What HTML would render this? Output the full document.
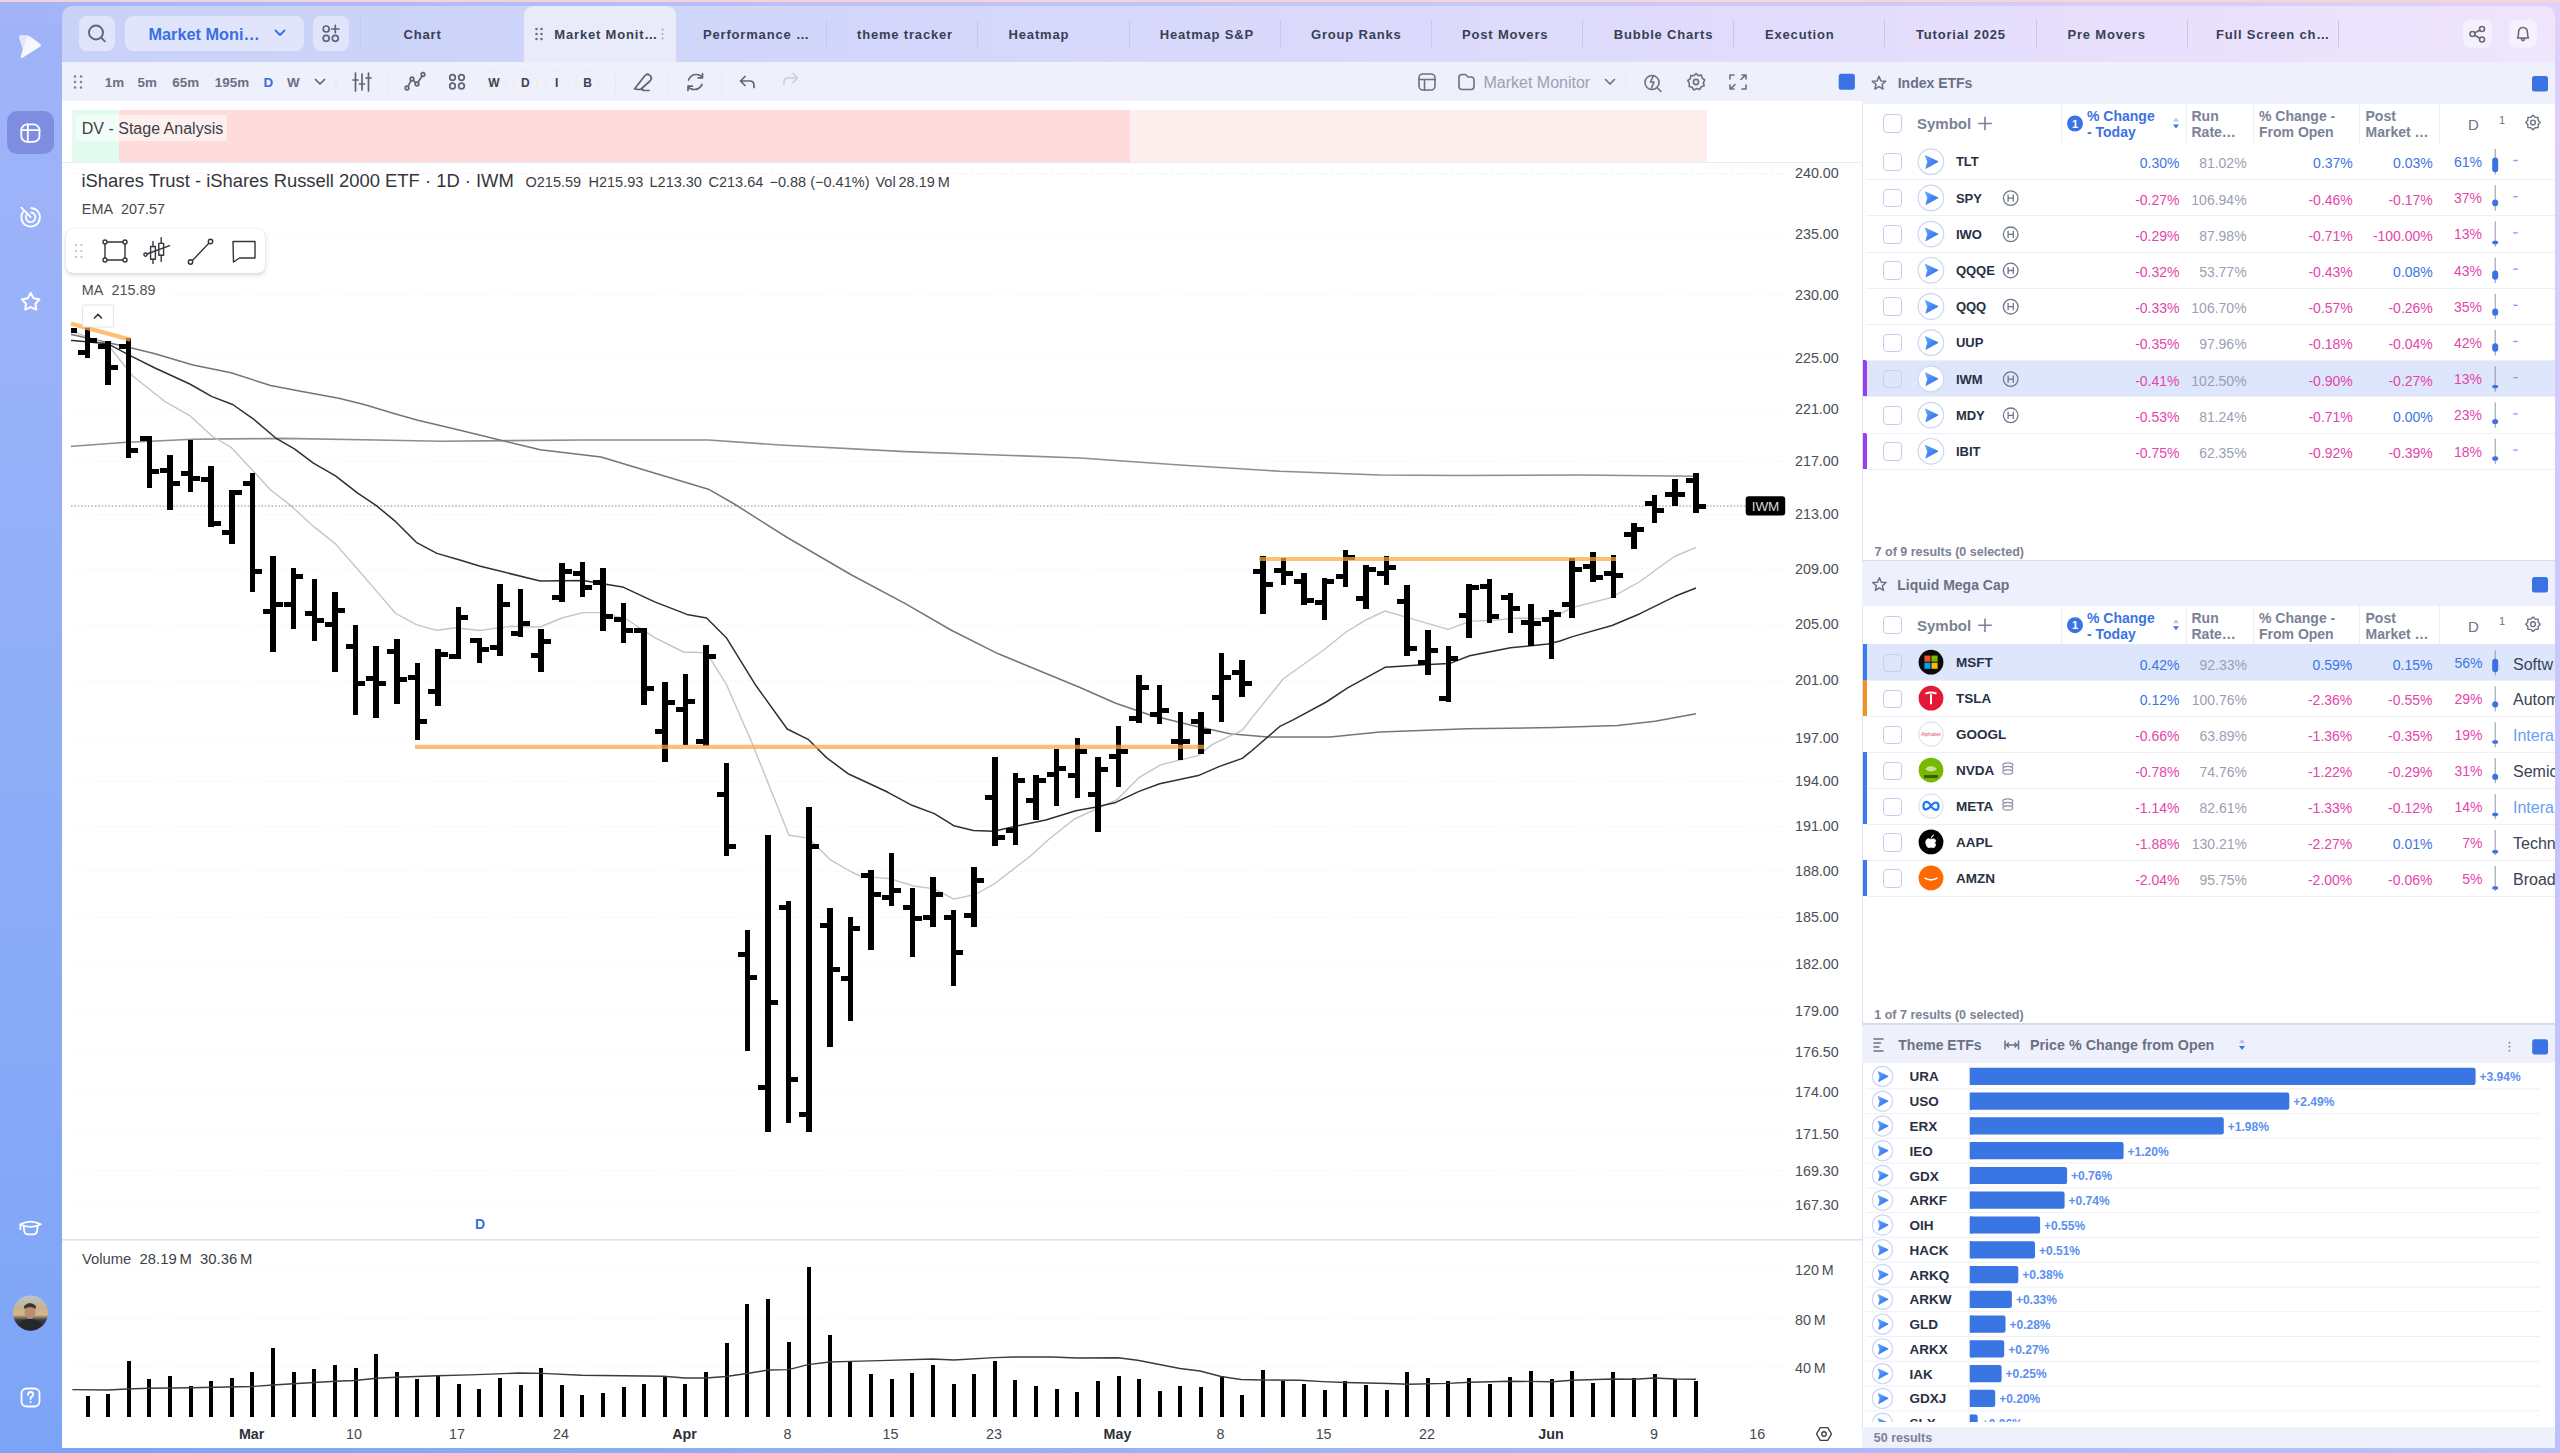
<!DOCTYPE html><html><head><meta charset="utf-8"><title>Market Monitor</title><style>
*{box-sizing:border-box;margin:0;padding:0}
html,body{width:2560px;height:1453px;overflow:hidden}
body{position:relative;font-family:"Liberation Sans",Arial,sans-serif;color:#2e3340;
 background:linear-gradient(180deg,#a0b3f8 0%,#9ab2f9 20%,#8faef8 50%,#87a9f7 75%,#7ca4f6 100%);}
.a{position:absolute}
.t{position:absolute;white-space:nowrap;line-height:1}
svg{position:absolute;overflow:visible}
#bgr{left:0;top:0;width:2560px;height:24px;
 background:linear-gradient(90deg,#a2b3f8 0%,#a6b5f8 3%,#b9bdfa 25%,#c5c4fb 50%,#d2c9fb 75%,#e2d1fa 100%);}
#bgb{left:62px;top:1440px;width:2498px;height:13px;
 background:linear-gradient(90deg,#7ca4f6 0%,#9fb3f8 50%,#bec1fa 100%);}
#rstrip{left:2540px;top:20px;width:20px;height:1433px;background:linear-gradient(180deg,#e0d0fa,#d8cdfa 15%,#c9c5fa 50%,#bcc0fa)}
#peach{left:0;top:0;width:2560px;height:2px;background:linear-gradient(90deg,#f3d2d6,#f6d6d2 60%,#f7d8d0)}
#tabbar{left:62px;top:6px;width:2493px;height:60px;border-radius:10px 10px 0 0;
 background:linear-gradient(90deg,#c8d1f8 0%,#d0d5fa 25%,#dad9fc 50%,#e4ddfc 75%,#efe5fc 100%);}
.tab{position:absolute;top:6px;height:56px;width:151px;}
.tabt{position:absolute;top:28px;font-weight:700;font-size:13px;letter-spacing:0.82px;color:#383f54;white-space:nowrap;line-height:1}
.sep{position:absolute;top:20px;width:1px;height:27px;background:#c3c9ec}
.btn{position:absolute;top:16px;height:35px;border-radius:8px;background:rgba(255,255,255,0.42)}
#chartp{left:62px;top:62px;width:1800px;height:1386px;background:#fff}
#tool{left:62px;top:62px;width:1800px;height:38.5px;background:#eef0fb}
#rightp{left:1862px;top:62px;width:693px;height:1386px;background:#fff;border-left:1px solid #d9dff3}
.hdr{position:absolute;left:1862px;width:693px;background:#eef0fb}
.cb{position:absolute;width:18.6px;height:18.6px;border:1.3px solid #c3cdee;border-radius:4px;background:#fff}
.sym{position:absolute;font-weight:700;font-size:13px;color:#283044;white-space:nowrap;line-height:1}
.num{position:absolute;font-size:14px;white-space:nowrap;line-height:1;text-align:right}
.pos{color:#3d74e4}.neg{color:#e445ab}.gry{color:#9aa0b4}
.colh{position:absolute;font-weight:700;font-size:14px;line-height:16px;color:#7b8196;white-space:nowrap}
.rowsep{position:absolute;left:1866px;width:689px;height:1px;background:#eef0f6}
.vsep{position:absolute;width:1px;background:#eceef6}
.tl{position:absolute;font-size:14.3px;color:#3a3d45;white-space:nowrap;line-height:1}
</style></head><body><div class="a" id="bgr"></div><div class="a" id="bgb"></div><div class="a" id="rstrip"></div><div class="a" id="peach"></div>
<svg class="a" style="left:0;top:0" width="62" height="1453" viewBox="0 0 62 1453"><defs><linearGradient id="lg1" x1="0" y1="0" x2="1" y2="1"><stop offset="0" stop-color="#eef0ff"/><stop offset="1" stop-color="#ffffff"/></linearGradient></defs><path d="M19.6,36.6 Q19.2,35.3 21,35.3 L27,35.4 Q28.6,35.5 30.2,36.6 L40.2,43.9 Q41.7,45.3 40.2,46.6 L22.6,57.7 Q20.3,58.9 20.8,56.5 L22.9,49 L19.4,38.6 Z" fill="url(#lg1)"/><path d="M19.6,36.6 Q19.2,35.3 21,35.3 L27.3,35.4 L22.9,49 L19.4,38.6 Z" fill="#e3e7fc"/><rect x="7" y="111" width="47" height="43" rx="10" fill="#7e8ddf"/><g fill="none" stroke="#fff" stroke-width="1.8" stroke-linecap="round" stroke-linejoin="round"><rect x="21.3" y="124.3" width="18.2" height="17.6" rx="6"/><path d="M21.3,130.2 H39.5 M27.8,124.3 V141.9"/><path d="M31.3,208 A9.3,9.3 0 1 1 23,212 M31.2,212.5 A4.8,4.8 0 1 1 26.3,215.2 M21.3,207.6 L30.6,217"/><polygon points="30.7,293.0 33.6,298.2 39.4,299.4 35.4,303.7 36.1,309.6 30.7,307.1 25.3,309.6 26.0,303.7 22.0,299.4 27.8,298.2" stroke-width="2.1"/><path d="M20.3,1224.3 Q30.5,1219 40.8,1224.3 Q30.5,1229.6 20.3,1224.3 Z"/><path d="M23.6,1226.2 L24.3,1231.3 Q24.9,1234.4 28,1234.4 H33.3 Q36.4,1234.4 37,1231.3 L37.6,1226.2"/><path d="M20.4,1224.6 V1229.3"/><rect x="21.5" y="1388.5" width="18" height="18" rx="5"/><path d="M28,1395 Q28,1392 30.6,1392 Q33.2,1392 33.2,1394.6 Q33.2,1396.3 30.6,1397.3 V1399"/></g><circle cx="30.6" cy="1402" r="1" fill="#fff"/><defs><linearGradient id="av" x1="0" y1="0" x2="0" y2="1"><stop offset="0" stop-color="#b9c4cf"/><stop offset="0.38" stop-color="#c9b08a"/><stop offset="0.55" stop-color="#d9b98c"/><stop offset="0.7" stop-color="#3a3a40"/><stop offset="1" stop-color="#1e1f24"/></linearGradient><clipPath id="avc"><circle cx="30.5" cy="1313" r="17.5"/></clipPath></defs><circle cx="30.5" cy="1313" r="17.5" fill="url(#av)"/><g clip-path="url(#avc)"><ellipse cx="30" cy="1312" rx="5.5" ry="7" fill="#b98d72"/><path d="M24,1306 Q30,1300 36,1306 L35.5,1309 Q30,1305 24.5,1309 Z" fill="#3b3430"/><path d="M16,1332 Q18,1319 30,1319 Q42,1319 45,1332 Z" fill="#26272c"/></g></svg>
<div class="a" id="tabbar"></div>
<div class="a" style="left:524px;top:6px;width:151.5px;height:57px;background:#e9ebfb;border-radius:9px 9px 0 0"></div>
<div class="btn" style="left:79px;width:36px"></div>
<div class="btn" style="left:124.5px;width:179.5px"></div>
<div class="btn" style="left:312.5px;width:36.5px"></div>
<div class="sep" style="left:360px;top:18px;height:31px"></div>
<div class="sep" style="left:826px"></div>
<div class="sep" style="left:977px"></div>
<div class="sep" style="left:1128.5px"></div>
<div class="sep" style="left:1280px"></div>
<div class="sep" style="left:1431.3px"></div>
<div class="sep" style="left:1582.3px"></div>
<div class="sep" style="left:1733px"></div>
<div class="sep" style="left:1884px"></div>
<div class="sep" style="left:2036px"></div>
<div class="sep" style="left:2187px"></div>
<div class="sep" style="left:2338px"></div>
<div class="tabt" style="left:403.5px">Chart</div>
<div class="tabt" style="left:554.3px">Market Monit…</div>
<div class="tabt" style="left:703px">Performance …</div>
<div class="tabt" style="left:857px">theme tracker</div>
<div class="tabt" style="left:1008.6px">Heatmap</div>
<div class="tabt" style="left:1159.7px">Heatmap S&amp;P</div>
<div class="tabt" style="left:1311px">Group Ranks</div>
<div class="tabt" style="left:1462px">Post Movers</div>
<div class="tabt" style="left:1613.7px">Bubble Charts</div>
<div class="tabt" style="left:1765px">Execution</div>
<div class="tabt" style="left:1916px">Tutorial 2025</div>
<div class="tabt" style="left:2067.5px">Pre Movers</div>
<div class="tabt" style="left:2216px">Full Screen ch…</div>
<div class="t" style="left:148.5px;top:25.5px;font-size:16.3px;font-weight:700;color:#3a6fe2">Market Moni…</div>
<svg class="a" style="left:0;top:0" width="2560" height="62" viewBox="0 0 2560 62"><g fill="none" stroke="#5f6577" stroke-width="1.9" stroke-linecap="round" stroke-linejoin="round"><circle cx="96" cy="32.5" r="7"/><path d="M101.2,37.7 L104.8,41.3"/></g><path d="M275.5,30.5 L280,35 L284.5,30.5" fill="none" stroke="#3a6fe2" stroke-width="1.9" stroke-linecap="round" stroke-linejoin="round"/><g fill="none" stroke="#5f6577" stroke-width="1.7" stroke-linecap="round"><circle cx="326.2" cy="29" r="3"/><circle cx="326.2" cy="38.3" r="3"/><circle cx="335.3" cy="38.3" r="3"/><path d="M335.3,25.3 V32.7 M331.6,29 H339"/></g><circle cx="536.5" cy="29" r="1.3" fill="#6a7086"/><circle cx="536.5" cy="34" r="1.3" fill="#6a7086"/><circle cx="536.5" cy="39" r="1.3" fill="#6a7086"/><circle cx="541.5" cy="29" r="1.3" fill="#6a7086"/><circle cx="541.5" cy="34" r="1.3" fill="#6a7086"/><circle cx="541.5" cy="39" r="1.3" fill="#6a7086"/><circle cx="662.6" cy="29.5" r="0.9" fill="#9aa0b5"/><circle cx="662.6" cy="34" r="0.9" fill="#9aa0b5"/><circle cx="662.6" cy="38.5" r="0.9" fill="#9aa0b5"/><rect x="2463" y="19.8" width="29" height="28" rx="7" fill="rgba(255,255,255,0.45)"/><rect x="2509" y="19.8" width="28" height="28" rx="7" fill="rgba(255,255,255,0.45)"/><g fill="none" stroke="#656b7d" stroke-width="1.6" stroke-linecap="round" stroke-linejoin="round"><circle cx="2472.5" cy="34" r="2.5"/><circle cx="2482" cy="29" r="2.5"/><circle cx="2482" cy="39.5" r="2.5"/><path d="M2474.8,32.8 L2479.8,30.2 M2474.8,35.2 L2479.8,38.2"/><path d="M2517.5,38 Q2518.5,36.5 2518.5,33 Q2518.5,27.5 2523,27.5 Q2527.5,27.5 2527.5,33 Q2527.5,36.5 2528.5,38 Z M2521.5,38.2 Q2521.5,40.5 2523,40.5 Q2524.5,40.5 2524.5,38.2"/></g></svg>
<div class="a" id="chartp"></div><div class="a" id="tool"></div>
<div class="t" style="left:104.8px;top:76.2px;font-size:13.4px;font-weight:700;color:#6a7084">1m</div>
<div class="t" style="left:137.5px;top:76.2px;font-size:13.4px;font-weight:700;color:#6a7084">5m</div>
<div class="t" style="left:172.3px;top:76.2px;font-size:13.4px;font-weight:700;color:#6a7084">65m</div>
<div class="t" style="left:214.8px;top:76.2px;font-size:13.4px;font-weight:700;color:#6a7084">195m</div>
<div class="t" style="left:263.5px;top:76.2px;font-size:13.4px;font-weight:700;color:#3a6fe2">D</div>
<div class="t" style="left:287px;top:76.2px;font-size:13.4px;font-weight:700;color:#6a7084">W</div>
<div class="t" style="left:482px;width:24px;text-align:center;top:76.5px;font-size:12px;font-weight:700;color:#3e4352">W</div>
<div class="t" style="left:513.3px;width:24px;text-align:center;top:76.5px;font-size:12px;font-weight:700;color:#3e4352">D</div>
<div class="t" style="left:544.6px;width:24px;text-align:center;top:76.5px;font-size:12px;font-weight:700;color:#3e4352">I</div>
<div class="t" style="left:575.5px;width:24px;text-align:center;top:76.5px;font-size:12px;font-weight:700;color:#3e4352">B</div>
<div class="t" style="left:1483.5px;top:74.5px;font-size:16px;color:#9ca1b3">Market Monitor</div>
<svg class="a" style="left:0;top:62px" width="1862" height="40" viewBox="0 62 1862 40"><circle cx="75" cy="76.5" r="1.25" fill="#7d8296"/><circle cx="75" cy="82" r="1.25" fill="#7d8296"/><circle cx="75" cy="87.5" r="1.25" fill="#7d8296"/><circle cx="81" cy="76.5" r="1.25" fill="#7d8296"/><circle cx="81" cy="82" r="1.25" fill="#7d8296"/><circle cx="81" cy="87.5" r="1.25" fill="#7d8296"/><g fill="none" stroke="#5f6577" stroke-width="1.7" stroke-linecap="round" stroke-linejoin="round"><path d="M315.5,79.5 L320,84 L324.5,79.5"/><path d="M355.5,73 V91 M362,74 V90 M368.5,73 V91 M353,80 H358 M359.5,84 H364.5 M366,78 H371"/><circle cx="407" cy="88" r="1.8"/><circle cx="412" cy="79" r="1.8"/><circle cx="417" cy="84" r="1.8"/><circle cx="423" cy="74.5" r="1.8"/><path d="M408,86.3 L411,80.7 M413.5,80.3 L415.5,82.7 M418,82.3 L422,76.3"/><circle cx="452.5" cy="77.5" r="2.8"/><circle cx="461.5" cy="77.5" r="2.8"/><circle cx="452.5" cy="86" r="2.8"/><circle cx="461.5" cy="86" r="2.8"/></g><g fill="none" stroke="#f1ebe4" stroke-width="1"><circle cx="494" cy="82.5" r="11.7"/><circle cx="525.3" cy="82.5" r="11.7"/><circle cx="556.6" cy="82.5" r="11.7"/><circle cx="587.5" cy="82.5" r="11.7"/></g><g fill="none" stroke="#5f6577" stroke-width="1.7" stroke-linecap="round" stroke-linejoin="round"><path d="M634.5,89 L645,75.5 Q647.5,73 650,75.5 L650.5,76 Q652.5,78.5 650,81 L640.5,89.5 Z M637.5,89.5 L643,89.5 M643,90.5 H649"/><path d="M688.5,80 Q691,74.5 696,74.5 Q700.5,74.5 702.5,77.5 M702.5,73.5 V77.8 H698.2 M702,84.5 Q699.5,89.5 694.5,89.5 Q690,89.5 688,86.5 M688,90.5 V86.2 H692.3"/><path d="M740.5,81 L745,76.5 M740.5,81 L745,85.5 M740.5,81 H750 Q754,81 754,85.5 V87.5"/></g><path d="M797.5,78 L793,73.5 M797.5,78 L793,82.5 M797.5,78 H788 Q784,78 784,82.5 V84.5" fill="none" stroke="#c9cdd9" stroke-width="1.5" stroke-linecap="round" stroke-linejoin="round"/><line x1="336" y1="71" x2="336" y2="94" stroke="#e6e0ea" stroke-width="1" stroke-dasharray="1.5,1.5"/><line x1="388" y1="71" x2="388" y2="94" stroke="#e6e0ea" stroke-width="1" stroke-dasharray="1.5,1.5"/><line x1="615.6" y1="71" x2="615.6" y2="94" stroke="#e6e0ea" stroke-width="1" stroke-dasharray="1.5,1.5"/><line x1="668" y1="71" x2="668" y2="94" stroke="#e6e0ea" stroke-width="1" stroke-dasharray="1.5,1.5"/><line x1="721.6" y1="71" x2="721.6" y2="94" stroke="#e6e0ea" stroke-width="1" stroke-dasharray="1.5,1.5"/><line x1="1626" y1="71" x2="1626" y2="94" stroke="#e6e0ea" stroke-width="1" stroke-dasharray="1.5,1.5"/><g fill="none" stroke="#6a7083" stroke-width="1.6" stroke-linecap="round" stroke-linejoin="round"><rect x="1419" y="74" width="16" height="16" rx="4"/><path d="M1419,79.5 H1435 M1424.5,79.5 V90"/><path d="M1459,77.5 Q1459,74.5 1462,74.5 H1465.5 L1468,77 H1471 Q1474,77 1474,80 V86.5 Q1474,89.5 1471,89.5 H1462 Q1459,89.5 1459,86.5 Z"/><path d="M1605.5,79.5 L1610,84 L1614.5,79.5"/><circle cx="1652" cy="82.5" r="7"/><path d="M1657,87.5 L1661,91.5 M1653.5,75.5 L1650.5,82 H1654 L1651.5,88"/><circle cx="1696" cy="82" r="2.6"/><path d="M1696,73.5 L1698.3,75.6 L1701.4,75 L1702.2,78.1 L1704.7,80 L1703.3,82.8 L1704.2,85.8 L1701.2,86.8 L1699.6,89.5 L1696.6,88.6 L1693.6,90 L1692.2,87.2 L1689.1,86.5 L1689.4,83.3 L1687.8,80.5 L1690.4,78.7 L1690.7,75.5 L1693.9,75.7 Z"/><path d="M1730,79 V75 H1734 M1742,75 H1746 V79 M1746,85 V89 H1742 M1734,89 H1730 V85 M1731.5,88 L1735,84.5 M1744.5,76 L1741,79.5"/></g><rect x="1838.7" y="73.7" width="16.2" height="16" rx="2.5" fill="#3b72e4"/></svg>
<div class="a" style="left:72px;top:110px;width:46.5px;height:52px;background:#e4fbf0"></div>
<div class="a" style="left:118.5px;top:110px;width:1011px;height:52px;background:#fddcdb"></div>
<div class="a" style="left:1129.5px;top:110px;width:577.5px;height:52px;background:#feeeee"></div>
<div class="a" style="left:75.5px;top:114.5px;width:151.5px;height:26.5px;background:rgba(255,255,255,0.55)"></div>
<div class="t" style="left:81.8px;top:121.3px;font-size:16px;color:#3c3f46">DV - Stage Analysis</div>
<div class="a" style="left:62px;top:161.5px;width:1799px;height:1px;background:#e6eaf5"></div>
<div class="t" style="left:81.5px;top:172.3px;font-size:18.4px;color:#33363d">iShares Trust - iShares Russell 2000 ETF · 1D · IWM</div>
<div class="t" style="left:525.5px;top:174.5px;font-size:14.5px;color:#3c3f46">O215.59</div>
<div class="t" style="left:588.5px;top:174.5px;font-size:14.5px;color:#3c3f46">H215.93</div>
<div class="t" style="left:649.5px;top:174.5px;font-size:14.5px;color:#3c3f46">L213.30</div>
<div class="t" style="left:708.5px;top:174.5px;font-size:14.5px;color:#3c3f46">C213.64</div>
<div class="t" style="left:769.5px;top:174.5px;font-size:14.5px;color:#3c3f46">−0.88 (−0.41%)</div>
<div class="t" style="left:875.5px;top:174.5px;font-size:14.5px;color:#3c3f46">Vol 28.19 M</div>
<div class="t" style="left:81.8px;top:201.8px;font-size:14.4px;color:#45484f">EMA&nbsp;&nbsp;207.57</div>
<div class="a" style="left:78px;top:283px;width:86px;height:19px;background:#fff;z-index:2"></div>
<div class="t" style="left:81.8px;top:283px;font-size:14.4px;color:#4d5058;z-index:3">MA&nbsp;&nbsp;215.89</div>
<div class="a" style="left:66px;top:229px;width:199px;height:44px;background:#fff;z-index:2;border-radius:7px;box-shadow:0 2px 5px rgba(0,0,0,0.16),0 0 1px rgba(0,0,0,0.12)"></div>
<svg class="a" style="left:0;top:0;z-index:3" width="300" height="340" viewBox="0 0 300 340"><circle cx="76" cy="245" r="1.2" fill="#c5c8d0"/><circle cx="76" cy="251" r="1.2" fill="#c5c8d0"/><circle cx="76" cy="257" r="1.2" fill="#c5c8d0"/><circle cx="81.5" cy="245" r="1.2" fill="#c5c8d0"/><circle cx="81.5" cy="251" r="1.2" fill="#c5c8d0"/><circle cx="81.5" cy="257" r="1.2" fill="#c5c8d0"/><g fill="none" stroke="#33363d" stroke-width="1.4" stroke-linecap="round" stroke-linejoin="round"><rect x="105" y="242" width="20" height="18"/><circle cx="105" cy="242" r="2" fill="#fff"/><circle cx="125" cy="242" r="2" fill="#fff"/><circle cx="105" cy="260" r="2" fill="#fff"/><circle cx="125" cy="260" r="2" fill="#fff"/><path d="M153,241.5 V246.5 M153,259.3 V263.5 M161.2,237.6 V243.4 M161.2,255.2 V261.6 M147,254 L169.6,245.6"/><rect x="150.6" y="246.5" width="4.8" height="12.8"/><rect x="158.8" y="243.4" width="4.8" height="11.8"/><circle cx="145.5" cy="254.6" r="1.6" fill="#fff"/><path d="M191,262 L210,242"/><circle cx="190.5" cy="262" r="2.2" fill="#fff"/><circle cx="210.5" cy="241.5" r="2.2" fill="#fff"/><path d="M233,241.5 H255 V258 H239.5 L233.5,262 Z"/></g><rect x="82.5" y="305" width="31" height="22" rx="2" fill="#fff" stroke="#e3e5ea" stroke-width="1"/><path d="M94.5,318 L98,314.5 L101.5,318" fill="none" stroke="#333" stroke-width="1.6" stroke-linecap="round"/></svg>
<svg class="a" style="left:0;top:0" width="1862" height="1453" viewBox="0 0 1862 1453"><defs><clipPath id="cp"><rect x="71" y="163" width="1700" height="1075"/></clipPath></defs><g stroke="#edeff3" stroke-width="1" stroke-dasharray="1.2,3"><line x1="71" y1="233.5" x2="1785" y2="233.5"/><line x1="71" y1="295.5" x2="1785" y2="295.5"/><line x1="71" y1="358.5" x2="1785" y2="358.5"/><line x1="71" y1="409.5" x2="1785" y2="409.5"/><line x1="71" y1="461.5" x2="1785" y2="461.5"/><line x1="71" y1="514.5" x2="1785" y2="514.5"/><line x1="71" y1="568.5" x2="1785" y2="568.5"/><line x1="71" y1="624.5" x2="1785" y2="624.5"/><line x1="71" y1="680.5" x2="1785" y2="680.5"/><line x1="71" y1="737.5" x2="1785" y2="737.5"/><line x1="71" y1="781.5" x2="1785" y2="781.5"/><line x1="71" y1="826.5" x2="1785" y2="826.5"/><line x1="71" y1="871.5" x2="1785" y2="871.5"/><line x1="71" y1="917.5" x2="1785" y2="917.5"/><line x1="71" y1="964.5" x2="1785" y2="964.5"/><line x1="71" y1="1011.5" x2="1785" y2="1011.5"/><line x1="71" y1="1051.5" x2="1785" y2="1051.5"/><line x1="71" y1="1092.5" x2="1785" y2="1092.5"/><line x1="71" y1="1134.5" x2="1785" y2="1134.5"/><line x1="71" y1="1170.5" x2="1785" y2="1170.5"/><line x1="71" y1="1204.5" x2="1785" y2="1204.5"/><line x1="71" y1="1270.5" x2="1785" y2="1270.5"/><line x1="71" y1="1319.5" x2="1785" y2="1319.5"/><line x1="71" y1="1367.5" x2="1785" y2="1367.5"/></g><line x1="71" y1="173.5" x2="1785" y2="173.5" stroke="#eceef2" stroke-width="1" stroke-dasharray="2,3"/><line x1="71" y1="506" x2="1746" y2="506" stroke="#8f8f94" stroke-width="1.2" stroke-dasharray="1.6,1.8"/><g clip-path="url(#cp)" fill="none" stroke-linejoin="round"><polyline points="71.0,446.4 72.7,446.3 123.3,442.5 193.0,439.3 281.7,438.4 376.7,440.0 440.0,441.2 583.0,440.0 708.4,440.0 780.0,445.0 905.3,451.6 1080.0,458.0 1180.0,465.0 1280.0,471.3 1380.0,475.0 1455.0,475.5 1580.0,475.0 1695.0,476.3" stroke="#8c8c92" stroke-width="1.6"/><polyline points="71.0,334.5 72.7,334.8 129.7,347.5 155.0,353.8 193.0,365.0 231.0,372.8 270.6,385.5 300.7,391.2 338.7,398.2 364.0,404.5 395.7,414.0 417.9,420.3 440.0,425.5 459.0,430.0 540.2,449.8 601.0,457.0 636.8,467.7 708.4,489.2 733.5,503.5 787.2,537.5 851.6,575.0 905.3,603.7 951.8,630.5 998.3,653.8 1040.0,671.0 1080.0,687.5 1115.7,703.3 1150.0,715.0 1191.4,725.3 1230.0,733.8 1267.5,737.0 1330.0,737.0 1380.0,732.0 1467.5,728.8 1555.0,727.5 1617.5,725.5 1655.0,721.3 1696.0,713.8" stroke="#74747a" stroke-width="1.5"/><polyline points="71.0,331.2 72.7,331.7 107.5,344.3 132.8,376.0 164.5,401.3 189.8,415.6 212.0,436.0 231.0,447.3 253.2,471.0 270.6,490.0 291.2,505.9 313.4,526.4 335.5,543.9 357.7,569.2 376.7,591.4 395.7,613.5 416.3,624.6 436.9,630.3 455.9,627.8 479.4,630.5 511.6,626.2 540.2,627.0 561.7,618.0 583.2,612.6 601.0,612.6 626.0,619.0 654.7,637.7 683.4,652.0 706.6,652.7 726.3,684.2 751.4,741.5 789.0,835.3 808.6,838.1 830.0,859.6 851.6,872.0 860.0,875.9 889.7,878.7 913.9,886.0 934.3,888.9 953.8,899.1 975.2,894.5 993.8,884.2 1030.5,856.0 1048.0,840.0 1074.4,819.0 1117.0,799.7 1139.0,777.6 1161.0,764.6 1198.3,755.6 1212.0,744.6 1242.3,730.2 1250.5,719.6 1283.1,679.0 1325.0,649.0 1346.0,632.0 1365.5,620.2 1385.0,611.0 1403.4,616.3 1448.0,629.4 1471.0,621.1 1492.0,620.5 1516.7,618.0 1539.0,618.7 1554.0,616.8 1572.5,607.5 1611.0,597.6 1640.0,581.5 1656.0,569.7 1674.3,556.5 1696.2,547.4" stroke="#c4c4cc" stroke-width="1.4"/><polyline points="71.0,340.4 72.7,340.5 107.5,343.7 129.7,355.4 155.0,368.0 189.8,384.0 212.0,396.6 232.6,404.5 253.2,418.8 275.4,437.8 294.4,448.9 313.4,463.1 335.5,475.8 357.7,493.2 376.7,505.9 395.7,521.7 416.3,542.3 436.9,553.4 459.0,559.7 479.4,566.0 540.2,581.1 583.2,580.4 622.5,586.9 654.7,601.9 687.0,614.4 706.6,618.0 726.3,637.7 755.0,684.2 787.2,729.0 808.6,739.7 826.5,757.6 848.0,773.7 860.0,779.2 887.9,792.3 912.0,805.3 934.3,813.6 953.8,825.7 973.4,830.4 993.8,831.3 1018.0,825.7 1045.8,820.0 1075.8,810.7 1095.0,807.2 1115.7,802.4 1139.0,791.4 1159.7,783.8 1198.3,775.6 1218.9,766.6 1242.3,758.4 1250.0,752.2 1280.0,726.3 1293.6,719.6 1326.3,702.0 1347.2,688.2 1385.0,667.3 1423.0,664.7 1450.0,663.4 1469.6,655.8 1510.5,647.8 1547.7,644.0 1560.0,641.0 1572.5,636.6 1612.0,625.5 1640.0,613.7 1675.0,596.3 1696.0,588.0" stroke="#2f2f33" stroke-width="1.5"/></g><g fill="#000" shape-rendering="crispEdges" clip-path="url(#cp)"><rect x="71" y="327.5" width="6" height="5"/><rect x="84.75" y="327.0" width="5.5" height="31.0"/><rect x="77.75" y="350.0" width="7" height="5"/><rect x="90.25" y="337.5" width="7" height="5"/><rect x="105.37" y="341.0" width="5.5" height="44.0"/><rect x="98.37" y="343.5" width="7" height="5"/><rect x="110.87" y="364.5" width="7" height="5"/><rect x="125.99" y="337.5" width="5.5" height="120.1"/><rect x="118.99" y="343.5" width="7" height="5"/><rect x="131.49" y="448.0" width="7" height="5"/><rect x="146.61" y="435.6" width="5.5" height="52.4"/><rect x="139.61" y="436.0" width="7" height="5"/><rect x="152.11" y="469.0" width="7" height="5"/><rect x="167.23" y="454.5" width="5.5" height="55.5"/><rect x="160.23" y="467.5" width="7" height="5"/><rect x="172.73" y="480.5" width="7" height="5"/><rect x="187.85" y="440.4" width="5.5" height="51.1"/><rect x="180.85" y="471.0" width="7" height="5"/><rect x="193.35" y="476.0" width="7" height="5"/><rect x="208.47" y="465.7" width="5.5" height="61.3"/><rect x="201.47" y="477.0" width="7" height="5"/><rect x="213.97" y="520.5" width="7" height="5"/><rect x="229.09" y="490.0" width="5.5" height="54.0"/><rect x="222.09" y="530.0" width="7" height="5"/><rect x="234.59" y="490.0" width="7" height="5"/><rect x="249.71" y="473.0" width="5.5" height="119.0"/><rect x="242.71" y="480.5" width="7" height="5"/><rect x="255.21" y="569.0" width="7" height="5"/><rect x="270.33" y="555.8" width="5.5" height="95.8"/><rect x="263.33" y="608.5" width="7" height="5"/><rect x="275.83" y="601.5" width="7" height="5"/><rect x="290.95" y="568.4" width="5.5" height="60.2"/><rect x="283.95" y="601.5" width="7" height="5"/><rect x="296.45" y="573.5" width="7" height="5"/><rect x="311.57" y="578.7" width="5.5" height="62.3"/><rect x="304.57" y="610.9" width="7" height="5"/><rect x="317.07" y="617.5" width="7" height="5"/><rect x="332.19" y="592.0" width="5.5" height="79.5"/><rect x="325.19" y="622.0" width="7" height="5"/><rect x="337.69" y="608.0" width="7" height="5"/><rect x="352.81" y="625.0" width="5.5" height="89.5"/><rect x="345.81" y="643.5" width="7" height="5"/><rect x="358.31" y="681.0" width="7" height="5"/><rect x="373.43" y="646.0" width="5.5" height="71.5"/><rect x="366.43" y="676.0" width="7" height="5"/><rect x="378.93" y="681.0" width="7" height="5"/><rect x="394.05" y="638.6" width="5.5" height="64.9"/><rect x="387.05" y="648.5" width="7" height="5"/><rect x="399.55" y="676.5" width="7" height="5"/><rect x="414.67" y="663.0" width="5.5" height="77.0"/><rect x="407.67" y="674.5" width="7" height="5"/><rect x="420.17" y="719.2" width="7" height="5"/><rect x="435.29" y="649.0" width="5.5" height="56.5"/><rect x="428.29" y="688.5" width="7" height="5"/><rect x="440.79" y="652.0" width="7" height="5"/><rect x="455.91" y="607.4" width="5.5" height="51.6"/><rect x="448.91" y="654.0" width="7" height="5"/><rect x="461.41" y="615.0" width="7" height="5"/><rect x="476.53" y="637.5" width="5.5" height="25.5"/><rect x="469.53" y="637.5" width="7" height="5"/><rect x="482.03" y="646.5" width="7" height="5"/><rect x="497.15" y="584.3" width="5.5" height="71.3"/><rect x="490.15" y="645.0" width="7" height="5"/><rect x="502.65" y="602.2" width="7" height="5"/><rect x="517.77" y="589.0" width="5.5" height="48.0"/><rect x="510.77" y="631.0" width="7" height="5"/><rect x="523.27" y="621.0" width="7" height="5"/><rect x="538.39" y="629.0" width="5.5" height="42.8"/><rect x="531.39" y="653.3" width="7" height="5"/><rect x="543.89" y="638.8" width="7" height="5"/><rect x="559.01" y="563.0" width="5.5" height="39.4"/><rect x="552.01" y="595.0" width="7" height="5"/><rect x="564.51" y="568.5" width="7" height="5"/><rect x="579.63" y="562.0" width="5.5" height="34.7"/><rect x="572.63" y="571.0" width="7" height="5"/><rect x="585.13" y="584.5" width="7" height="5"/><rect x="600.25" y="568.4" width="5.5" height="62.1"/><rect x="593.25" y="580.0" width="7" height="5"/><rect x="605.75" y="613.5" width="7" height="5"/><rect x="620.87" y="602.8" width="5.5" height="39.9"/><rect x="613.87" y="616.8" width="7" height="5"/><rect x="626.37" y="627.5" width="7" height="5"/><rect x="641.49" y="627.5" width="5.5" height="77.5"/><rect x="634.49" y="627.5" width="7" height="5"/><rect x="646.99" y="686.2" width="7" height="5"/><rect x="662.11" y="682.2" width="5.5" height="79.5"/><rect x="655.11" y="728.7" width="7" height="5"/><rect x="667.61" y="699.9" width="7" height="5"/><rect x="682.73" y="674.0" width="5.5" height="71.0"/><rect x="675.73" y="706.5" width="7" height="5"/><rect x="688.23" y="699.1" width="7" height="5"/><rect x="703.35" y="644.6" width="5.5" height="101.2"/><rect x="696.35" y="738.5" width="7" height="5"/><rect x="708.85" y="653.9" width="7" height="5"/><rect x="723.97" y="763.4" width="5.5" height="92.3"/><rect x="716.97" y="791.8" width="7" height="5"/><rect x="729.47" y="843.5" width="7" height="5"/><rect x="744.59" y="929.7" width="5.5" height="121.7"/><rect x="737.59" y="952.2" width="7" height="5"/><rect x="750.09" y="974.8" width="7" height="5"/><rect x="765.21" y="834.6" width="5.5" height="297.4"/><rect x="758.21" y="1085.0" width="7" height="5"/><rect x="770.71" y="1000.1" width="7" height="5"/><rect x="785.83" y="901.3" width="5.5" height="221.2"/><rect x="778.83" y="905.0" width="7" height="5"/><rect x="791.33" y="1076.5" width="7" height="5"/><rect x="806.45" y="806.9" width="5.5" height="325.1"/><rect x="799.45" y="1111.5" width="7" height="5"/><rect x="811.95" y="843.5" width="7" height="5"/><rect x="827.07" y="907.6" width="5.5" height="139.0"/><rect x="820.07" y="922.5" width="7" height="5"/><rect x="832.57" y="966.5" width="7" height="5"/><rect x="847.69" y="917.0" width="5.5" height="103.8"/><rect x="840.69" y="975.5" width="7" height="5"/><rect x="853.19" y="925.5" width="7" height="5"/><rect x="868.31" y="869.5" width="5.5" height="80.0"/><rect x="861.31" y="872.5" width="7" height="5"/><rect x="873.81" y="891.5" width="7" height="5"/><rect x="888.93" y="852.7" width="5.5" height="53.5"/><rect x="881.93" y="894.5" width="7" height="5"/><rect x="894.43" y="887.5" width="7" height="5"/><rect x="909.55" y="888.3" width="5.5" height="68.7"/><rect x="902.55" y="904.8" width="7" height="5"/><rect x="915.05" y="915.5" width="7" height="5"/><rect x="930.17" y="877.2" width="5.5" height="50.2"/><rect x="923.17" y="915.0" width="7" height="5"/><rect x="935.67" y="892.0" width="7" height="5"/><rect x="950.79" y="910.3" width="5.5" height="75.2"/><rect x="943.79" y="915.0" width="7" height="5"/><rect x="956.29" y="950.0" width="7" height="5"/><rect x="971.41" y="867.0" width="5.5" height="59.6"/><rect x="964.41" y="912.9" width="7" height="5"/><rect x="976.91" y="877.7" width="7" height="5"/><rect x="992.03" y="757.0" width="5.5" height="88.6"/><rect x="985.03" y="795.1" width="7" height="5"/><rect x="997.53" y="835.0" width="7" height="5"/><rect x="1012.65" y="773.0" width="5.5" height="71.8"/><rect x="1005.65" y="827.5" width="7" height="5"/><rect x="1018.15" y="778.3" width="7" height="5"/><rect x="1033.27" y="774.6" width="5.5" height="45.4"/><rect x="1026.27" y="797.9" width="7" height="5"/><rect x="1038.77" y="777.5" width="7" height="5"/><rect x="1053.89" y="748.7" width="5.5" height="56.8"/><rect x="1046.89" y="771.5" width="7" height="5"/><rect x="1059.39" y="765.9" width="7" height="5"/><rect x="1074.51" y="737.7" width="5.5" height="60.3"/><rect x="1067.51" y="772.7" width="7" height="5"/><rect x="1080.01" y="749.3" width="7" height="5"/><rect x="1095.13" y="757.0" width="5.5" height="74.6"/><rect x="1088.13" y="792.0" width="7" height="5"/><rect x="1100.63" y="766.5" width="7" height="5"/><rect x="1115.75" y="726.0" width="5.5" height="61.0"/><rect x="1108.75" y="754.1" width="7" height="5"/><rect x="1121.25" y="748.8" width="7" height="5"/><rect x="1136.37" y="675.0" width="5.5" height="47.6"/><rect x="1129.37" y="716.0" width="7" height="5"/><rect x="1141.87" y="685.1" width="7" height="5"/><rect x="1156.99" y="685.0" width="5.5" height="39.2"/><rect x="1149.99" y="712.3" width="7" height="5"/><rect x="1162.49" y="707.5" width="7" height="5"/><rect x="1177.61" y="711.8" width="5.5" height="48.0"/><rect x="1170.61" y="739.0" width="7" height="5"/><rect x="1183.11" y="738.5" width="7" height="5"/><rect x="1198.23" y="712.3" width="5.5" height="41.7"/><rect x="1191.23" y="719.0" width="7" height="5"/><rect x="1203.73" y="729.2" width="7" height="5"/><rect x="1218.85" y="653.0" width="5.5" height="68.5"/><rect x="1211.85" y="695.1" width="7" height="5"/><rect x="1224.35" y="675.0" width="7" height="5"/><rect x="1239.47" y="660.0" width="5.5" height="37.0"/><rect x="1232.47" y="670.0" width="7" height="5"/><rect x="1244.97" y="680.5" width="7" height="5"/><rect x="1260.09" y="556.0" width="5.5" height="58.3"/><rect x="1253.09" y="568.7" width="7" height="5"/><rect x="1265.59" y="582.2" width="7" height="5"/><rect x="1280.71" y="558.0" width="5.5" height="26.7"/><rect x="1273.71" y="567.5" width="7" height="5"/><rect x="1286.21" y="571.1" width="7" height="5"/><rect x="1301.33" y="572.5" width="5.5" height="32.7"/><rect x="1294.33" y="579.2" width="7" height="5"/><rect x="1306.83" y="597.5" width="7" height="5"/><rect x="1321.95" y="577.7" width="5.5" height="42.5"/><rect x="1314.95" y="599.9" width="7" height="5"/><rect x="1327.45" y="578.5" width="7" height="5"/><rect x="1342.57" y="550.3" width="5.5" height="37.0"/><rect x="1335.57" y="573.9" width="7" height="5"/><rect x="1348.07" y="554.9" width="7" height="5"/><rect x="1363.19" y="565.0" width="5.5" height="43.5"/><rect x="1356.19" y="596.1" width="7" height="5"/><rect x="1368.69" y="566.8" width="7" height="5"/><rect x="1383.81" y="555.5" width="5.5" height="29.2"/><rect x="1376.81" y="570.8" width="7" height="5"/><rect x="1389.31" y="564.9" width="7" height="5"/><rect x="1404.43" y="585.2" width="5.5" height="70.6"/><rect x="1397.43" y="598.8" width="7" height="5"/><rect x="1409.93" y="646.2" width="7" height="5"/><rect x="1425.05" y="630.0" width="5.5" height="44.5"/><rect x="1418.05" y="660.1" width="7" height="5"/><rect x="1430.55" y="647.5" width="7" height="5"/><rect x="1445.67" y="646.3" width="5.5" height="55.4"/><rect x="1438.67" y="695.5" width="7" height="5"/><rect x="1451.17" y="655.8" width="7" height="5"/><rect x="1466.29" y="583.6" width="5.5" height="54.5"/><rect x="1459.29" y="612.7" width="7" height="5"/><rect x="1471.79" y="584.8" width="7" height="5"/><rect x="1486.91" y="579.4" width="5.5" height="43.4"/><rect x="1479.91" y="583.5" width="7" height="5"/><rect x="1492.41" y="614.2" width="7" height="5"/><rect x="1507.53" y="593.0" width="5.5" height="39.7"/><rect x="1500.53" y="594.8" width="7" height="5"/><rect x="1513.03" y="605.8" width="7" height="5"/><rect x="1528.15" y="603.8" width="5.5" height="42.5"/><rect x="1521.15" y="619.5" width="7" height="5"/><rect x="1533.65" y="621.1" width="7" height="5"/><rect x="1548.77" y="610.0" width="5.5" height="48.7"/><rect x="1541.77" y="616.8" width="7" height="5"/><rect x="1554.27" y="611.7" width="7" height="5"/><rect x="1569.39" y="558.3" width="5.5" height="60.0"/><rect x="1562.39" y="601.5" width="7" height="5"/><rect x="1574.89" y="566.6" width="7" height="5"/><rect x="1590.01" y="552.4" width="5.5" height="29.7"/><rect x="1583.01" y="563.5" width="7" height="5"/><rect x="1595.51" y="574.5" width="7" height="5"/><rect x="1610.63" y="554.9" width="5.5" height="43.1"/><rect x="1603.63" y="570.5" width="7" height="5"/><rect x="1616.13" y="572.8" width="7" height="5"/><rect x="1631.25" y="523.3" width="5.5" height="25.7"/><rect x="1624.25" y="532.3" width="7" height="5"/><rect x="1636.75" y="527.1" width="7" height="5"/><rect x="1651.87" y="494.6" width="5.5" height="28.2"/><rect x="1644.87" y="500.5" width="7" height="5"/><rect x="1657.37" y="507.5" width="7" height="5"/><rect x="1672.49" y="479.3" width="5.5" height="26.4"/><rect x="1665.49" y="491.8" width="7" height="5"/><rect x="1677.99" y="491.8" width="7" height="5"/><rect x="1693.11" y="472.5" width="5.5" height="40.3"/><rect x="1686.11" y="478.1" width="7" height="5"/><rect x="1698.61" y="503.5" width="7" height="5"/></g><g stroke="#fca63f" stroke-opacity="0.72" stroke-width="4.2" stroke-linecap="butt"><line x1="71" y1="323.6" x2="130.5" y2="339.8"/><line x1="415" y1="746.8" x2="1204" y2="746.8"/><line x1="1259" y1="559" x2="1616" y2="559"/></g><rect x="1745.7" y="496.2" width="39.5" height="19.4" rx="3" fill="#000"/><text x="1765.5" y="511" text-anchor="middle" font-size="13.5" fill="#d8d8d8" font-family="Liberation Sans, Arial, sans-serif">IWM</text><g font-size="14.3" fill="#4b4e56" font-family="Liberation Sans, Arial, sans-serif" text-anchor="start"><text x="1795" y="178.3">240.00</text><text x="1795" y="238.5">235.00</text><text x="1795" y="300.0">230.00</text><text x="1795" y="362.8">225.00</text><text x="1795" y="414.0">221.00</text><text x="1795" y="466.2">217.00</text><text x="1795" y="519.4">213.00</text><text x="1795" y="573.6">209.00</text><text x="1795" y="628.8">205.00</text><text x="1795" y="685.1">201.00</text><text x="1795" y="742.5">197.00</text><text x="1795" y="786.4">194.00</text><text x="1795" y="830.9">191.00</text><text x="1795" y="876.1">188.00</text><text x="1795" y="922.1">185.00</text><text x="1795" y="968.8">182.00</text><text x="1795" y="1016.3">179.00</text><text x="1795" y="1056.5">176.50</text><text x="1795" y="1097.3">174.00</text><text x="1795" y="1138.6">171.50</text><text x="1795" y="1175.5">169.30</text><text x="1795" y="1209.5">167.30</text><text x="1795" y="1275.3" text-anchor="start">120 M</text><text x="1795" y="1324.5" text-anchor="start">80 M</text><text x="1795" y="1372.9" text-anchor="start">40 M</text></g><rect x="62" y="1239.2" width="1800" height="1.3" fill="#d5dbee"/><text x="480" y="1228.5" text-anchor="middle" font-size="14" font-weight="700" fill="#3a6fe2" font-family="Liberation Sans, Arial, sans-serif">D</text><g fill="#000" shape-rendering="crispEdges"><rect x="85.50" y="1396.2" width="4" height="21.0"/><rect x="106.12" y="1393.7" width="4" height="23.5"/><rect x="126.74" y="1361.4" width="4" height="55.8"/><rect x="147.36" y="1379.1" width="4" height="38.1"/><rect x="167.98" y="1375.8" width="4" height="41.4"/><rect x="188.60" y="1386.0" width="4" height="31.2"/><rect x="209.22" y="1380.8" width="4" height="36.4"/><rect x="229.84" y="1377.5" width="4" height="39.7"/><rect x="250.46" y="1372.2" width="4" height="45.0"/><rect x="271.08" y="1348.0" width="4" height="69.2"/><rect x="291.70" y="1372.2" width="4" height="45.0"/><rect x="312.32" y="1369.0" width="4" height="48.2"/><rect x="332.94" y="1365.0" width="4" height="52.2"/><rect x="353.56" y="1368.3" width="4" height="48.9"/><rect x="374.18" y="1353.7" width="4" height="63.5"/><rect x="394.80" y="1371.6" width="4" height="45.6"/><rect x="415.42" y="1378.6" width="4" height="38.6"/><rect x="436.04" y="1375.4" width="4" height="41.8"/><rect x="456.66" y="1383.6" width="4" height="33.6"/><rect x="477.28" y="1388.5" width="4" height="28.7"/><rect x="497.90" y="1377.5" width="4" height="39.7"/><rect x="518.52" y="1384.9" width="4" height="32.3"/><rect x="539.14" y="1368.3" width="4" height="48.9"/><rect x="559.76" y="1385.2" width="4" height="32.0"/><rect x="580.38" y="1394.6" width="4" height="22.6"/><rect x="601.00" y="1393.0" width="4" height="24.2"/><rect x="621.62" y="1386.8" width="4" height="30.4"/><rect x="642.24" y="1383.6" width="4" height="33.6"/><rect x="662.86" y="1376.2" width="4" height="41.0"/><rect x="683.48" y="1384.4" width="4" height="32.8"/><rect x="704.10" y="1371.7" width="4" height="45.5"/><rect x="724.72" y="1343.0" width="4" height="74.2"/><rect x="745.34" y="1304.0" width="4" height="113.2"/><rect x="765.96" y="1299.0" width="4" height="118.2"/><rect x="786.58" y="1342.0" width="4" height="75.2"/><rect x="807.20" y="1266.7" width="4" height="150.5"/><rect x="827.82" y="1334.7" width="4" height="82.5"/><rect x="848.44" y="1361.4" width="4" height="55.8"/><rect x="869.06" y="1373.7" width="4" height="43.5"/><rect x="889.68" y="1379.1" width="4" height="38.1"/><rect x="910.30" y="1373.2" width="4" height="44.0"/><rect x="930.92" y="1365.0" width="4" height="52.2"/><rect x="951.54" y="1384.4" width="4" height="32.8"/><rect x="972.16" y="1374.2" width="4" height="43.0"/><rect x="992.78" y="1361.4" width="4" height="55.8"/><rect x="1013.40" y="1380.0" width="4" height="37.2"/><rect x="1034.02" y="1386.0" width="4" height="31.2"/><rect x="1054.64" y="1388.5" width="4" height="28.7"/><rect x="1075.26" y="1392.3" width="4" height="24.9"/><rect x="1095.88" y="1380.8" width="4" height="36.4"/><rect x="1116.50" y="1375.8" width="4" height="41.4"/><rect x="1137.12" y="1379.1" width="4" height="38.1"/><rect x="1157.74" y="1391.0" width="4" height="26.2"/><rect x="1178.36" y="1385.7" width="4" height="31.5"/><rect x="1198.98" y="1386.8" width="4" height="30.4"/><rect x="1219.60" y="1376.2" width="4" height="41.0"/><rect x="1240.22" y="1395.0" width="4" height="22.2"/><rect x="1260.84" y="1369.6" width="4" height="47.6"/><rect x="1281.46" y="1381.4" width="4" height="35.8"/><rect x="1302.08" y="1384.4" width="4" height="32.8"/><rect x="1322.70" y="1390.1" width="4" height="27.1"/><rect x="1343.32" y="1380.8" width="4" height="36.4"/><rect x="1363.94" y="1385.2" width="4" height="32.0"/><rect x="1384.56" y="1389.6" width="4" height="27.6"/><rect x="1405.18" y="1371.6" width="4" height="45.6"/><rect x="1425.80" y="1377.5" width="4" height="39.7"/><rect x="1446.42" y="1380.8" width="4" height="36.4"/><rect x="1467.04" y="1377.5" width="4" height="39.7"/><rect x="1487.66" y="1384.4" width="4" height="32.8"/><rect x="1508.28" y="1376.5" width="4" height="40.7"/><rect x="1528.90" y="1370.8" width="4" height="46.4"/><rect x="1549.52" y="1379.1" width="4" height="38.1"/><rect x="1570.14" y="1370.8" width="4" height="46.4"/><rect x="1590.76" y="1382.7" width="4" height="34.5"/><rect x="1611.38" y="1372.1" width="4" height="45.1"/><rect x="1632.00" y="1377.5" width="4" height="39.7"/><rect x="1652.62" y="1373.7" width="4" height="43.5"/><rect x="1673.24" y="1379.1" width="4" height="38.1"/><rect x="1693.86" y="1381.4" width="4" height="35.8"/></g><polyline points="72.3,1389.6 107.6,1390.0 127.0,1389.0 149.0,1388.2 191.0,1387.8 252.0,1386.5 273.0,1385.0 293.0,1383.8 314.0,1382.5 335.6,1381.3 355.0,1380.5 376.6,1378.3 396.0,1377.3 437.0,1375.8 470.0,1374.9 519.0,1373.0 542.0,1373.4 581.6,1375.3 663.6,1376.2 685.0,1378.0 706.0,1378.0 726.0,1376.5 747.0,1373.5 768.6,1370.0 788.6,1369.6 808.0,1364.6 829.3,1362.0 850.6,1361.4 880.0,1360.6 932.5,1359.0 953.8,1360.0 994.8,1357.6 1014.5,1357.0 1052.0,1357.0 1077.0,1358.0 1118.0,1357.8 1137.6,1360.3 1180.0,1368.5 1200.0,1371.0 1221.0,1376.5 1241.0,1379.5 1262.0,1380.0 1300.0,1380.3 1322.8,1381.6 1345.8,1382.5 1388.4,1383.5 1408.0,1384.2 1447.5,1383.4 1470.5,1382.3 1510.0,1381.2 1552.5,1381.8 1572.0,1380.3 1613.0,1379.0 1634.5,1379.3 1654.0,1378.0 1675.5,1379.0 1696.0,1379.3" fill="none" stroke="#3a3a40" stroke-width="1.4" stroke-linejoin="round"/><g font-size="14.3" fill="#44474f" font-family="Liberation Sans, Arial, sans-serif" text-anchor="middle"><text x="251.6" y="1439.2" font-weight="700" fill="#2e3138">Mar</text><text x="354" y="1439.2">10</text><text x="457" y="1439.2">17</text><text x="561" y="1439.2">24</text><text x="684.5" y="1439.2" font-weight="700" fill="#2e3138">Apr</text><text x="787.5" y="1439.2">8</text><text x="890.5" y="1439.2">15</text><text x="994" y="1439.2">23</text><text x="1117.5" y="1439.2" font-weight="700" fill="#2e3138">May</text><text x="1220.5" y="1439.2">8</text><text x="1323.6" y="1439.2">15</text><text x="1427" y="1439.2">22</text><text x="1551" y="1439.2" font-weight="700" fill="#2e3138">Jun</text><text x="1654" y="1439.2">9</text><text x="1757.3" y="1439.2">16</text></g><path d="M1816.5,1434 L1820.3,1427.6 H1827.7 L1831.5,1434 L1827.7,1440.4 H1820.3 Z" fill="none" stroke="#3c3f46" stroke-width="1.4" stroke-linejoin="round"/><circle cx="1824" cy="1434" r="2.2" fill="none" stroke="#3c3f46" stroke-width="1.4"/></svg>
<div class="t" style="left:82px;top:1252.3px;font-size:14.8px;color:#44474f">Volume&nbsp;&nbsp;<span style="color:#3c3f46">28.19 M&nbsp;&nbsp;30.36 M</span></div>
<div class="a" id="rightp"></div>
<div class="hdr" style="top:62px;height:42px"></div>
<div class="t" style="left:1897.7px;top:76.3px;font-size:14px;font-weight:700;color:#6b7185">Index ETFs</div>
<div class="cb" style="left:1883px;top:114.2px"></div>
<div class="t" style="left:1917px;top:116.0px;font-size:15px;font-weight:700;color:#7b8196">Symbol</div>
<div class="vsep" style="left:2061px;top:104px;height:39px"></div>
<div class="vsep" style="left:2185.5px;top:104px;height:39px"></div>
<div class="vsep" style="left:2253px;top:104px;height:39px"></div>
<div class="vsep" style="left:2359px;top:104px;height:39px"></div>
<div class="vsep" style="left:2439px;top:104px;height:39px"></div>
<div class="colh" style="left:2087px;top:108.0px;color:#3b72e4">% Change<br>- Today</div>
<div class="colh" style="left:2191.5px;top:108.0px">Run<br>Rate…</div>
<div class="colh" style="left:2259px;top:108.0px">% Change -<br>From Open</div>
<div class="colh" style="left:2365.5px;top:108.0px">Post<br>Market …</div>
<div class="t" style="left:2468px;top:117.0px;font-size:15px;color:#6b7185">D</div>
<div class="t" style="left:2499px;top:114.5px;font-size:11px;color:#6b7185">1</div>
<div class="cb" style="left:1883px;top:152.6px;"></div>
<div class="sym" style="left:1955.9px;top:155.3px">TLT</div>
<div class="num pos" style="right:380.5px;top:156.4px">0.30%</div>
<div class="num gry" style="right:313.4000000000001px;top:156.4px">81.02%</div>
<div class="num pos" style="right:207.19999999999982px;top:156.4px">0.37%</div>
<div class="num pos" style="right:127.19999999999982px;top:156.4px">0.03%</div>
<div class="num pos" style="right:78px;top:154.9px">61%</div>
<div class="rowsep" style="top:179.2px"></div>
<div class="cb" style="left:1883px;top:188.8px;"></div>
<div class="sym" style="left:1955.9px;top:191.5px">SPY</div>
<div class="num neg" style="right:380.5px;top:192.6px">-0.27%</div>
<div class="num gry" style="right:313.4000000000001px;top:192.6px">106.94%</div>
<div class="num neg" style="right:207.19999999999982px;top:192.6px">-0.46%</div>
<div class="num neg" style="right:127.19999999999982px;top:192.6px">-0.17%</div>
<div class="num neg" style="right:78px;top:191.1px">37%</div>
<div class="rowsep" style="top:215.4px"></div>
<div class="cb" style="left:1883px;top:225.0px;"></div>
<div class="sym" style="left:1955.9px;top:227.7px">IWO</div>
<div class="num neg" style="right:380.5px;top:228.8px">-0.29%</div>
<div class="num gry" style="right:313.4000000000001px;top:228.8px">87.98%</div>
<div class="num neg" style="right:207.19999999999982px;top:228.8px">-0.71%</div>
<div class="num neg" style="right:127.19999999999982px;top:228.8px">-100.00%</div>
<div class="num neg" style="right:78px;top:227.3px">13%</div>
<div class="rowsep" style="top:251.6px"></div>
<div class="cb" style="left:1883px;top:261.2px;"></div>
<div class="sym" style="left:1955.9px;top:263.9px">QQQE</div>
<div class="num neg" style="right:380.5px;top:265.0px">-0.32%</div>
<div class="num gry" style="right:313.4000000000001px;top:265.0px">53.77%</div>
<div class="num neg" style="right:207.19999999999982px;top:265.0px">-0.43%</div>
<div class="num pos" style="right:127.19999999999982px;top:265.0px">0.08%</div>
<div class="num neg" style="right:78px;top:263.5px">43%</div>
<div class="rowsep" style="top:287.8px"></div>
<div class="cb" style="left:1883px;top:297.4px;"></div>
<div class="sym" style="left:1955.9px;top:300.1px">QQQ</div>
<div class="num neg" style="right:380.5px;top:301.2px">-0.33%</div>
<div class="num gry" style="right:313.4000000000001px;top:301.2px">106.70%</div>
<div class="num neg" style="right:207.19999999999982px;top:301.2px">-0.57%</div>
<div class="num neg" style="right:127.19999999999982px;top:301.2px">-0.26%</div>
<div class="num neg" style="right:78px;top:299.7px">35%</div>
<div class="rowsep" style="top:324.0px"></div>
<div class="cb" style="left:1883px;top:333.6px;"></div>
<div class="sym" style="left:1955.9px;top:336.3px">UUP</div>
<div class="num neg" style="right:380.5px;top:337.4px">-0.35%</div>
<div class="num gry" style="right:313.4000000000001px;top:337.4px">97.96%</div>
<div class="num neg" style="right:207.19999999999982px;top:337.4px">-0.18%</div>
<div class="num neg" style="right:127.19999999999982px;top:337.4px">-0.04%</div>
<div class="num neg" style="right:78px;top:335.9px">42%</div>
<div class="a" style="left:1863px;top:361.2px;width:692px;height:35.5px;background:#dde6fb"></div>
<div class="a" style="left:1863px;top:360.2px;width:4.3px;height:36px;background:#9a3ff0"></div>
<div class="rowsep" style="top:360.2px"></div>
<div class="cb" style="left:1883px;top:369.8px;background:transparent;border-color:#c8d2f0"></div>
<div class="sym" style="left:1955.9px;top:372.5px">IWM</div>
<div class="num neg" style="right:380.5px;top:373.6px">-0.41%</div>
<div class="num gry" style="right:313.4000000000001px;top:373.6px">102.50%</div>
<div class="num neg" style="right:207.19999999999982px;top:373.6px">-0.90%</div>
<div class="num neg" style="right:127.19999999999982px;top:373.6px">-0.27%</div>
<div class="num neg" style="right:78px;top:372.1px">13%</div>
<div class="rowsep" style="top:396.4px"></div>
<div class="cb" style="left:1883px;top:406.0px;"></div>
<div class="sym" style="left:1955.9px;top:408.7px">MDY</div>
<div class="num neg" style="right:380.5px;top:409.8px">-0.53%</div>
<div class="num gry" style="right:313.4000000000001px;top:409.8px">81.24%</div>
<div class="num neg" style="right:207.19999999999982px;top:409.8px">-0.71%</div>
<div class="num pos" style="right:127.19999999999982px;top:409.8px">0.00%</div>
<div class="num neg" style="right:78px;top:408.3px">23%</div>
<div class="a" style="left:1863px;top:432.6px;width:4.3px;height:36px;background:#9a3ff0"></div>
<div class="rowsep" style="top:432.6px"></div>
<div class="cb" style="left:1883px;top:442.2px;"></div>
<div class="sym" style="left:1955.9px;top:444.9px">IBIT</div>
<div class="num neg" style="right:380.5px;top:446.0px">-0.75%</div>
<div class="num gry" style="right:313.4000000000001px;top:446.0px">62.35%</div>
<div class="num neg" style="right:207.19999999999982px;top:446.0px">-0.92%</div>
<div class="num neg" style="right:127.19999999999982px;top:446.0px">-0.39%</div>
<div class="num neg" style="right:78px;top:444.5px">18%</div>
<div class="rowsep" style="top:468.8px"></div>
<div class="t" style="left:1874.6px;top:546.3px;font-size:12.5px;font-weight:700;color:#7c8294">7 of 9 results (0 selected)</div>
<div class="a" style="left:1862px;top:560px;width:693px;height:1.3px;background:#d5dcf2"></div>
<div class="hdr" style="top:561.3px;height:44.7px"></div>
<div class="t" style="left:1897.3px;top:577.6px;font-size:14px;font-weight:700;color:#6b7185">Liquid Mega Cap</div>
<div class="cb" style="left:1883px;top:615.9px"></div>
<div class="t" style="left:1917px;top:617.7px;font-size:15px;font-weight:700;color:#7b8196">Symbol</div>
<div class="vsep" style="left:2061px;top:606px;height:38.39999999999998px"></div>
<div class="vsep" style="left:2185.5px;top:606px;height:38.39999999999998px"></div>
<div class="vsep" style="left:2253px;top:606px;height:38.39999999999998px"></div>
<div class="vsep" style="left:2359px;top:606px;height:38.39999999999998px"></div>
<div class="vsep" style="left:2439px;top:606px;height:38.39999999999998px"></div>
<div class="colh" style="left:2087px;top:609.7px;color:#3b72e4">% Change<br>- Today</div>
<div class="colh" style="left:2191.5px;top:609.7px">Run<br>Rate…</div>
<div class="colh" style="left:2259px;top:609.7px">% Change -<br>From Open</div>
<div class="colh" style="left:2365.5px;top:609.7px">Post<br>Market …</div>
<div class="t" style="left:2468px;top:618.7px;font-size:15px;color:#6b7185">D</div>
<div class="t" style="left:2499px;top:616.2px;font-size:11px;color:#6b7185">1</div>
<div class="a" style="left:1863px;top:644.4px;width:692px;height:36px;background:#dde6fb"></div>
<div class="a" style="left:1863px;top:644.4px;width:4px;height:36px;background:#3b7bf0"></div>
<div class="cb" style="left:1883px;top:653.7px;background:transparent"></div>
<div class="sym" style="left:1955.9px;top:656.4px;font-size:13.5px">MSFT</div>
<div class="num pos" style="right:380.5px;top:657.5px">0.42%</div>
<div class="num gry" style="right:313px;top:657.5px">92.33%</div>
<div class="num pos" style="right:207.69999999999982px;top:657.5px">0.59%</div>
<div class="num pos" style="right:127.59999999999991px;top:657.5px">0.15%</div>
<div class="num pos" style="right:77.59999999999991px;top:656.0px">56%</div>
<div class="t" style="left:2513px;top:654.5px;font-size:16px;font-weight:400;color:#3b4254;width:42px;overflow:hidden;line-height:19px">Softw</div>
<div class="rowsep" style="top:680.4px"></div>
<div class="a" style="left:1863px;top:680.4px;width:4px;height:36px;background:#f5921e"></div>
<div class="cb" style="left:1883px;top:689.6px;"></div>
<div class="sym" style="left:1955.9px;top:692.4px;font-size:13.5px">TSLA</div>
<div class="num pos" style="right:380.5px;top:693.4px">0.12%</div>
<div class="num gry" style="right:313px;top:693.4px">100.76%</div>
<div class="num neg" style="right:207.69999999999982px;top:693.4px">-2.36%</div>
<div class="num neg" style="right:127.59999999999991px;top:693.4px">-0.55%</div>
<div class="num neg" style="right:77.59999999999991px;top:691.9px">29%</div>
<div class="t" style="left:2513px;top:690.4px;font-size:16px;font-weight:400;color:#3b4254;width:42px;overflow:hidden;line-height:19px">Autom</div>
<div class="rowsep" style="top:716.3px"></div>
<div class="cb" style="left:1883px;top:725.6px;"></div>
<div class="sym" style="left:1955.9px;top:728.3px;font-size:13.5px">GOOGL</div>
<div class="num neg" style="right:380.5px;top:729.4px">-0.66%</div>
<div class="num gry" style="right:313px;top:729.4px">63.89%</div>
<div class="num neg" style="right:207.69999999999982px;top:729.4px">-1.36%</div>
<div class="num neg" style="right:127.59999999999991px;top:729.4px">-0.35%</div>
<div class="num neg" style="right:77.59999999999991px;top:727.9px">19%</div>
<div class="t" style="left:2513px;top:726.4px;font-size:16px;font-weight:400;color:#6a9ef3;width:42px;overflow:hidden;line-height:19px">Intera</div>
<div class="rowsep" style="top:752.2px"></div>
<div class="a" style="left:1863px;top:752.2px;width:4px;height:36px;background:#3b7bf0"></div>
<div class="cb" style="left:1883px;top:761.5px;"></div>
<div class="sym" style="left:1955.9px;top:764.2px;font-size:13.5px">NVDA</div>
<div class="num neg" style="right:380.5px;top:765.3px">-0.78%</div>
<div class="num gry" style="right:313px;top:765.3px">74.76%</div>
<div class="num neg" style="right:207.69999999999982px;top:765.3px">-1.22%</div>
<div class="num neg" style="right:127.59999999999991px;top:765.3px">-0.29%</div>
<div class="num neg" style="right:77.59999999999991px;top:763.8px">31%</div>
<div class="t" style="left:2513px;top:762.3px;font-size:16px;font-weight:400;color:#3b4254;width:42px;overflow:hidden;line-height:19px">Semic</div>
<div class="rowsep" style="top:788.2px"></div>
<div class="a" style="left:1863px;top:788.2px;width:4px;height:36px;background:#3b7bf0"></div>
<div class="cb" style="left:1883px;top:797.5px;"></div>
<div class="sym" style="left:1955.9px;top:800.2px;font-size:13.5px">META</div>
<div class="num neg" style="right:380.5px;top:801.3px">-1.14%</div>
<div class="num gry" style="right:313px;top:801.3px">82.61%</div>
<div class="num neg" style="right:207.69999999999982px;top:801.3px">-1.33%</div>
<div class="num neg" style="right:127.59999999999991px;top:801.3px">-0.12%</div>
<div class="num neg" style="right:77.59999999999991px;top:799.8px">14%</div>
<div class="t" style="left:2513px;top:798.3px;font-size:16px;font-weight:400;color:#6a9ef3;width:42px;overflow:hidden;line-height:19px">Intera</div>
<div class="rowsep" style="top:824.1px"></div>
<div class="cb" style="left:1883px;top:833.4px;"></div>
<div class="sym" style="left:1955.9px;top:836.1px;font-size:13.5px">AAPL</div>
<div class="num neg" style="right:380.5px;top:837.2px">-1.88%</div>
<div class="num gry" style="right:313px;top:837.2px">130.21%</div>
<div class="num neg" style="right:207.69999999999982px;top:837.2px">-2.27%</div>
<div class="num pos" style="right:127.59999999999991px;top:837.2px">0.01%</div>
<div class="num neg" style="right:77.59999999999991px;top:835.7px">7%</div>
<div class="t" style="left:2513px;top:834.2px;font-size:16px;font-weight:400;color:#3b4254;width:42px;overflow:hidden;line-height:19px">Techn</div>
<div class="rowsep" style="top:860.1px"></div>
<div class="a" style="left:1863px;top:860.1px;width:4px;height:36px;background:#3b7bf0"></div>
<div class="cb" style="left:1883px;top:869.4px;"></div>
<div class="sym" style="left:1955.9px;top:872.1px;font-size:13.5px">AMZN</div>
<div class="num neg" style="right:380.5px;top:873.2px">-2.04%</div>
<div class="num gry" style="right:313px;top:873.2px">95.75%</div>
<div class="num neg" style="right:207.69999999999982px;top:873.2px">-2.00%</div>
<div class="num neg" style="right:127.59999999999991px;top:873.2px">-0.06%</div>
<div class="num neg" style="right:77.59999999999991px;top:871.7px">5%</div>
<div class="t" style="left:2513px;top:870.2px;font-size:16px;font-weight:400;color:#3b4254;width:42px;overflow:hidden;line-height:19px">Broad</div>
<div class="rowsep" style="top:896px"></div>
<div class="t" style="left:1874.3px;top:1008.6px;font-size:12.5px;font-weight:700;color:#7c8294">1 of 7 results (0 selected)</div>
<div class="a" style="left:1862px;top:1023.4px;width:693px;height:1.3px;background:#d5dcf2"></div>
<div class="hdr" style="top:1024.7px;height:38.7px"></div>
<div class="t" style="left:1898.3px;top:1038.3px;font-size:14px;font-weight:700;color:#6b7185">Theme ETFs</div>
<div class="t" style="left:2030px;top:1038px;font-size:14.3px;font-weight:700;color:#6b7185">Price % Change from Open</div>
<div class="a" style="left:1863px;top:1063.4px;width:692px;height:359px;overflow:hidden">
<svg class="a" style="left:0;top:0" width="692" height="380" viewBox="1863 1063.4 692 380"><circle cx="1882.5" cy="1076.8" r="10.1" fill="#fff" stroke="#cdd6f3" stroke-width="1.2"/><path d="M1878.1,1072.0 L1888.2,1076.7 L1878.6,1082.1 L1879.9,1077.0 Z" fill="url(#pg)" stroke="url(#pg)" stroke-width="0.8" stroke-linejoin="round"/><rect x="1969.5" y="1068.2" width="506.1" height="17.2" rx="2.2" fill="#3a75e4"/><rect x="1969.5" y="1068.2" width="3" height="17.2" fill="#3a75e4"/><line x1="1866" y1="1089.2" x2="2540" y2="1089.2" stroke="#eef0f6" stroke-width="1"/><circle cx="1882.5" cy="1101.57" r="10.1" fill="#fff" stroke="#cdd6f3" stroke-width="1.2"/><path d="M1878.1,1096.8 L1888.2,1101.5 L1878.6,1106.9 L1879.9,1101.7 Z" fill="url(#pg)" stroke="url(#pg)" stroke-width="0.8" stroke-linejoin="round"/><rect x="1969.5" y="1093.0" width="319.8" height="17.2" rx="2.2" fill="#3a75e4"/><rect x="1969.5" y="1093.0" width="3" height="17.2" fill="#3a75e4"/><line x1="1866" y1="1114.0" x2="2540" y2="1114.0" stroke="#eef0f6" stroke-width="1"/><circle cx="1882.5" cy="1126.34" r="10.1" fill="#fff" stroke="#cdd6f3" stroke-width="1.2"/><path d="M1878.1,1121.5 L1888.2,1126.3 L1878.6,1131.6 L1879.9,1126.5 Z" fill="url(#pg)" stroke="url(#pg)" stroke-width="0.8" stroke-linejoin="round"/><rect x="1969.5" y="1117.7" width="254.3" height="17.2" rx="2.2" fill="#3a75e4"/><rect x="1969.5" y="1117.7" width="3" height="17.2" fill="#3a75e4"/><line x1="1866" y1="1138.7" x2="2540" y2="1138.7" stroke="#eef0f6" stroke-width="1"/><circle cx="1882.5" cy="1151.11" r="10.1" fill="#fff" stroke="#cdd6f3" stroke-width="1.2"/><path d="M1878.1,1146.3 L1888.2,1151.0 L1878.6,1156.4 L1879.9,1151.3 Z" fill="url(#pg)" stroke="url(#pg)" stroke-width="0.8" stroke-linejoin="round"/><rect x="1969.5" y="1142.5" width="154.1" height="17.2" rx="2.2" fill="#3a75e4"/><rect x="1969.5" y="1142.5" width="3" height="17.2" fill="#3a75e4"/><line x1="1866" y1="1163.5" x2="2540" y2="1163.5" stroke="#eef0f6" stroke-width="1"/><circle cx="1882.5" cy="1175.8799999999999" r="10.1" fill="#fff" stroke="#cdd6f3" stroke-width="1.2"/><path d="M1878.1,1171.1 L1888.2,1175.8 L1878.6,1181.2 L1879.9,1176.0 Z" fill="url(#pg)" stroke="url(#pg)" stroke-width="0.8" stroke-linejoin="round"/><rect x="1969.5" y="1167.3" width="97.6" height="17.2" rx="2.2" fill="#3a75e4"/><rect x="1969.5" y="1167.3" width="3" height="17.2" fill="#3a75e4"/><line x1="1866" y1="1188.3" x2="2540" y2="1188.3" stroke="#eef0f6" stroke-width="1"/><circle cx="1882.5" cy="1200.6499999999999" r="10.1" fill="#fff" stroke="#cdd6f3" stroke-width="1.2"/><path d="M1878.1,1195.8 L1888.2,1200.6 L1878.6,1205.9 L1879.9,1200.8 Z" fill="url(#pg)" stroke="url(#pg)" stroke-width="0.8" stroke-linejoin="round"/><rect x="1969.5" y="1192.0" width="95.1" height="17.2" rx="2.2" fill="#3a75e4"/><rect x="1969.5" y="1192.0" width="3" height="17.2" fill="#3a75e4"/><line x1="1866" y1="1213.0" x2="2540" y2="1213.0" stroke="#eef0f6" stroke-width="1"/><circle cx="1882.5" cy="1225.42" r="10.1" fill="#fff" stroke="#cdd6f3" stroke-width="1.2"/><path d="M1878.1,1220.6 L1888.2,1225.3 L1878.6,1230.7 L1879.9,1225.6 Z" fill="url(#pg)" stroke="url(#pg)" stroke-width="0.8" stroke-linejoin="round"/><rect x="1969.5" y="1216.8" width="70.6" height="17.2" rx="2.2" fill="#3a75e4"/><rect x="1969.5" y="1216.8" width="3" height="17.2" fill="#3a75e4"/><line x1="1866" y1="1237.8" x2="2540" y2="1237.8" stroke="#eef0f6" stroke-width="1"/><circle cx="1882.5" cy="1250.19" r="10.1" fill="#fff" stroke="#cdd6f3" stroke-width="1.2"/><path d="M1878.1,1245.4 L1888.2,1250.1 L1878.6,1255.5 L1879.9,1250.3 Z" fill="url(#pg)" stroke="url(#pg)" stroke-width="0.8" stroke-linejoin="round"/><rect x="1969.5" y="1241.6" width="65.5" height="17.2" rx="2.2" fill="#3a75e4"/><rect x="1969.5" y="1241.6" width="3" height="17.2" fill="#3a75e4"/><line x1="1866" y1="1262.6" x2="2540" y2="1262.6" stroke="#eef0f6" stroke-width="1"/><circle cx="1882.5" cy="1274.96" r="10.1" fill="#fff" stroke="#cdd6f3" stroke-width="1.2"/><path d="M1878.1,1270.1 L1888.2,1274.9 L1878.6,1280.2 L1879.9,1275.1 Z" fill="url(#pg)" stroke="url(#pg)" stroke-width="0.8" stroke-linejoin="round"/><rect x="1969.5" y="1266.4" width="48.8" height="17.2" rx="2.2" fill="#3a75e4"/><rect x="1969.5" y="1266.4" width="3" height="17.2" fill="#3a75e4"/><line x1="1866" y1="1287.4" x2="2540" y2="1287.4" stroke="#eef0f6" stroke-width="1"/><circle cx="1882.5" cy="1299.73" r="10.1" fill="#fff" stroke="#cdd6f3" stroke-width="1.2"/><path d="M1878.1,1294.9 L1888.2,1299.7 L1878.6,1305.0 L1879.9,1299.9 Z" fill="url(#pg)" stroke="url(#pg)" stroke-width="0.8" stroke-linejoin="round"/><rect x="1969.5" y="1291.1" width="42.4" height="17.2" rx="2.2" fill="#3a75e4"/><rect x="1969.5" y="1291.1" width="3" height="17.2" fill="#3a75e4"/><line x1="1866" y1="1312.1" x2="2540" y2="1312.1" stroke="#eef0f6" stroke-width="1"/><circle cx="1882.5" cy="1324.5" r="10.1" fill="#fff" stroke="#cdd6f3" stroke-width="1.2"/><path d="M1878.1,1319.7 L1888.2,1324.4 L1878.6,1329.8 L1879.9,1324.7 Z" fill="url(#pg)" stroke="url(#pg)" stroke-width="0.8" stroke-linejoin="round"/><rect x="1969.5" y="1315.9" width="36.0" height="17.2" rx="2.2" fill="#3a75e4"/><rect x="1969.5" y="1315.9" width="3" height="17.2" fill="#3a75e4"/><line x1="1866" y1="1336.9" x2="2540" y2="1336.9" stroke="#eef0f6" stroke-width="1"/><circle cx="1882.5" cy="1349.27" r="10.1" fill="#fff" stroke="#cdd6f3" stroke-width="1.2"/><path d="M1878.1,1344.5 L1888.2,1349.2 L1878.6,1354.6 L1879.9,1349.4 Z" fill="url(#pg)" stroke="url(#pg)" stroke-width="0.8" stroke-linejoin="round"/><rect x="1969.5" y="1340.7" width="34.7" height="17.2" rx="2.2" fill="#3a75e4"/><rect x="1969.5" y="1340.7" width="3" height="17.2" fill="#3a75e4"/><line x1="1866" y1="1361.7" x2="2540" y2="1361.7" stroke="#eef0f6" stroke-width="1"/><circle cx="1882.5" cy="1374.04" r="10.1" fill="#fff" stroke="#cdd6f3" stroke-width="1.2"/><path d="M1878.1,1369.2 L1888.2,1374.0 L1878.6,1379.3 L1879.9,1374.2 Z" fill="url(#pg)" stroke="url(#pg)" stroke-width="0.8" stroke-linejoin="round"/><rect x="1969.5" y="1365.4" width="32.1" height="17.2" rx="2.2" fill="#3a75e4"/><rect x="1969.5" y="1365.4" width="3" height="17.2" fill="#3a75e4"/><line x1="1866" y1="1386.4" x2="2540" y2="1386.4" stroke="#eef0f6" stroke-width="1"/><circle cx="1882.5" cy="1398.81" r="10.1" fill="#fff" stroke="#cdd6f3" stroke-width="1.2"/><path d="M1878.1,1394.0 L1888.2,1398.7 L1878.6,1404.1 L1879.9,1399.0 Z" fill="url(#pg)" stroke="url(#pg)" stroke-width="0.8" stroke-linejoin="round"/><rect x="1969.5" y="1390.2" width="25.7" height="17.2" rx="2.2" fill="#3a75e4"/><rect x="1969.5" y="1390.2" width="3" height="17.2" fill="#3a75e4"/><line x1="1866" y1="1411.2" x2="2540" y2="1411.2" stroke="#eef0f6" stroke-width="1"/><circle cx="1882.5" cy="1423.58" r="10.1" fill="#fff" stroke="#cdd6f3" stroke-width="1.2"/><path d="M1878.1,1418.8 L1888.2,1423.5 L1878.6,1428.9 L1879.9,1423.7 Z" fill="url(#pg)" stroke="url(#pg)" stroke-width="0.8" stroke-linejoin="round"/><rect x="1969.5" y="1415.0" width="8.2" height="17.2" rx="2.2" fill="#3a75e4"/><rect x="1969.5" y="1415.0" width="3" height="17.2" fill="#3a75e4"/><line x1="1969.2" y1="1063" x2="1969.2" y2="1425" stroke="#eceef4" stroke-width="1"/></svg>
<div class="t" style="left:46.59999999999991px;top:7.1px;font-size:13.5px;font-weight:700;color:#283044">URA</div><div class="t" style="left:616.6px;top:7.9px;font-size:12px;font-weight:700;color:#5b8ff0">+3.94%</div><div class="t" style="left:46.59999999999991px;top:31.9px;font-size:13.5px;font-weight:700;color:#283044">USO</div><div class="t" style="left:430.3px;top:32.7px;font-size:12px;font-weight:700;color:#5b8ff0">+2.49%</div><div class="t" style="left:46.59999999999991px;top:56.6px;font-size:13.5px;font-weight:700;color:#283044">ERX</div><div class="t" style="left:364.8px;top:57.4px;font-size:12px;font-weight:700;color:#5b8ff0">+1.98%</div><div class="t" style="left:46.59999999999991px;top:81.4px;font-size:13.5px;font-weight:700;color:#283044">IEO</div><div class="t" style="left:264.6px;top:82.2px;font-size:12px;font-weight:700;color:#5b8ff0">+1.20%</div><div class="t" style="left:46.59999999999991px;top:106.2px;font-size:13.5px;font-weight:700;color:#283044">GDX</div><div class="t" style="left:208.1px;top:107.0px;font-size:12px;font-weight:700;color:#5b8ff0">+0.76%</div><div class="t" style="left:46.59999999999991px;top:130.9px;font-size:13.5px;font-weight:700;color:#283044">ARKF</div><div class="t" style="left:205.6px;top:131.7px;font-size:12px;font-weight:700;color:#5b8ff0">+0.74%</div><div class="t" style="left:46.59999999999991px;top:155.7px;font-size:13.5px;font-weight:700;color:#283044">OIH</div><div class="t" style="left:181.1px;top:156.5px;font-size:12px;font-weight:700;color:#5b8ff0">+0.55%</div><div class="t" style="left:46.59999999999991px;top:180.5px;font-size:13.5px;font-weight:700;color:#283044">HACK</div><div class="t" style="left:176.0px;top:181.3px;font-size:12px;font-weight:700;color:#5b8ff0">+0.51%</div><div class="t" style="left:46.59999999999991px;top:205.3px;font-size:13.5px;font-weight:700;color:#283044">ARKQ</div><div class="t" style="left:159.3px;top:206.1px;font-size:12px;font-weight:700;color:#5b8ff0">+0.38%</div><div class="t" style="left:46.59999999999991px;top:230.0px;font-size:13.5px;font-weight:700;color:#283044">ARKW</div><div class="t" style="left:152.9px;top:230.8px;font-size:12px;font-weight:700;color:#5b8ff0">+0.33%</div><div class="t" style="left:46.59999999999991px;top:254.8px;font-size:13.5px;font-weight:700;color:#283044">GLD</div><div class="t" style="left:146.5px;top:255.6px;font-size:12px;font-weight:700;color:#5b8ff0">+0.28%</div><div class="t" style="left:46.59999999999991px;top:279.6px;font-size:13.5px;font-weight:700;color:#283044">ARKX</div><div class="t" style="left:145.2px;top:280.4px;font-size:12px;font-weight:700;color:#5b8ff0">+0.27%</div><div class="t" style="left:46.59999999999991px;top:304.3px;font-size:13.5px;font-weight:700;color:#283044">IAK</div><div class="t" style="left:142.6px;top:305.1px;font-size:12px;font-weight:700;color:#5b8ff0">+0.25%</div><div class="t" style="left:46.59999999999991px;top:329.1px;font-size:13.5px;font-weight:700;color:#283044">GDXJ</div><div class="t" style="left:136.2px;top:329.9px;font-size:12px;font-weight:700;color:#5b8ff0">+0.20%</div><div class="t" style="left:46.59999999999991px;top:353.9px;font-size:13.5px;font-weight:700;color:#283044">SLX</div><div class="t" style="left:118.7px;top:354.7px;font-size:12px;font-weight:700;color:#5b8ff0">+0.06%</div>
</div>
<div class="hdr" style="top:1427.2px;height:20.8px"></div>
<div class="t" style="left:1873.8px;top:1432.3px;font-size:12.5px;font-weight:700;color:#7c8294">50 results</div>
<svg class="a" style="left:0;top:0" width="2560" height="1453" viewBox="0 0 2560 1453"><defs><linearGradient id="pg" x1="0" y1="0" x2="1" y2="1"><stop offset="0" stop-color="#63a9fb"/><stop offset="1" stop-color="#2563eb"/></linearGradient></defs><polygon points="1879.0,76.4 1880.9,80.9 1885.7,81.2 1882.0,84.4 1883.1,89.1 1879.0,86.6 1874.9,89.1 1876.0,84.4 1872.3,81.2 1877.1,80.9" fill="none" stroke="#6b7185" stroke-width="1.5" stroke-linejoin="round"/><rect x="2532" y="76" width="16" height="15.5" rx="2.5" fill="#3b72e4"/><path d="M1985,116.7 V130.3 M1978.2,123.5 H1991.8" stroke="#7b8196" stroke-width="1.6" fill="none"/><circle cx="2075" cy="123.5" r="8" fill="#3b72e4"/><text x="2075" y="127.5" text-anchor="middle" font-size="11" font-weight="700" fill="#fff" font-family="Liberation Sans, Arial, sans-serif">1</text><path d="M2173,121.5 L2176,117.5 L2179,121.5 Z" fill="#b8c4ee"/><path d="M2173,124.5 L2176,128.5 L2179,124.5 Z" fill="#3b72e4"/><polygon points="2533.0,115.3 2535.1,117.3 2538.1,117.4 2538.2,120.4 2540.2,122.5 2538.2,124.6 2538.1,127.6 2535.1,127.7 2533.0,129.7 2530.9,127.7 2527.9,127.6 2527.8,124.6 2525.8,122.5 2527.8,120.4 2527.9,117.4 2530.9,117.3" fill="none" stroke="#6b7185" stroke-width="1.4" stroke-linejoin="round"/><circle cx="2533" cy="122.5" r="2.4" fill="none" stroke="#6b7185" stroke-width="1.4"/><circle cx="1930.9" cy="161.7" r="12.8" fill="#fff" stroke="#cdd6f3" stroke-width="1.2"/><path d="M1925.3,155.6 L1938.1,161.6 L1925.9,168.4 L1927.6,161.9 Z" fill="url(#pg)" stroke="url(#pg)" stroke-width="0.8" stroke-linejoin="round"/><line x1="2495.2" y1="149.0" x2="2495.2" y2="174.5" stroke="#8e94a6" stroke-width="1"/><rect x="2492.2" y="157.5" width="6" height="14.8" rx="3" fill="#3b72e4"/><rect x="2513.2" y="159.8" width="4.6" height="1.4" fill="#7fa6f0"/><circle cx="1930.9" cy="197.89999999999998" r="12.8" fill="#fff" stroke="#cdd6f3" stroke-width="1.2"/><path d="M1925.3,191.8 L1938.1,197.8 L1925.9,204.6 L1927.6,198.1 Z" fill="url(#pg)" stroke="url(#pg)" stroke-width="0.8" stroke-linejoin="round"/><circle cx="2010.7" cy="198.1" r="7.3" fill="none" stroke="#70768a" stroke-width="1.3"/><path d="M2008.1,194.5 V201.7 M2013.3,194.5 V201.7 M2008.1,198.1 H2013.3" stroke="#70768a" stroke-width="1.3" fill="none"/><line x1="2495.2" y1="185.2" x2="2495.2" y2="210.7" stroke="#8e94a6" stroke-width="1"/><rect x="2492.2" y="199.5" width="6" height="6.8" rx="3" fill="#3b72e4"/><rect x="2513.2" y="196.0" width="4.6" height="1.4" fill="#7fa6f0"/><circle cx="1930.9" cy="234.1" r="12.8" fill="#fff" stroke="#cdd6f3" stroke-width="1.2"/><path d="M1925.3,228.0 L1938.1,234.0 L1925.9,240.8 L1927.6,234.3 Z" fill="url(#pg)" stroke="url(#pg)" stroke-width="0.8" stroke-linejoin="round"/><circle cx="2010.7" cy="234.3" r="7.3" fill="none" stroke="#70768a" stroke-width="1.3"/><path d="M2008.1,230.7 V237.9 M2013.3,230.7 V237.9 M2008.1,234.3 H2013.3" stroke="#70768a" stroke-width="1.3" fill="none"/><line x1="2495.2" y1="221.4" x2="2495.2" y2="246.9" stroke="#8e94a6" stroke-width="1"/><rect x="2492.2" y="240.8" width="6" height="3.4" rx="1.7" fill="#3b72e4"/><rect x="2513.2" y="232.2" width="4.6" height="1.4" fill="#7fa6f0"/><circle cx="1930.9" cy="270.30000000000007" r="12.8" fill="#fff" stroke="#cdd6f3" stroke-width="1.2"/><path d="M1925.3,264.2 L1938.1,270.2 L1925.9,277.0 L1927.6,270.5 Z" fill="url(#pg)" stroke="url(#pg)" stroke-width="0.8" stroke-linejoin="round"/><circle cx="2010.7" cy="270.50000000000006" r="7.3" fill="none" stroke="#70768a" stroke-width="1.3"/><path d="M2008.1,266.9 V274.1 M2013.3,266.9 V274.1 M2008.1,270.5 H2013.3" stroke="#70768a" stroke-width="1.3" fill="none"/><line x1="2495.2" y1="257.6" x2="2495.2" y2="283.1" stroke="#8e94a6" stroke-width="1"/><rect x="2492.2" y="270.6" width="6" height="9.1" rx="3" fill="#3b72e4"/><rect x="2513.2" y="268.4" width="4.6" height="1.4" fill="#7fa6f0"/><circle cx="1930.9" cy="306.50000000000006" r="12.8" fill="#fff" stroke="#cdd6f3" stroke-width="1.2"/><path d="M1925.3,300.4 L1938.1,306.4 L1925.9,313.2 L1927.6,306.7 Z" fill="url(#pg)" stroke="url(#pg)" stroke-width="0.8" stroke-linejoin="round"/><circle cx="2010.7" cy="306.70000000000005" r="7.3" fill="none" stroke="#70768a" stroke-width="1.3"/><path d="M2008.1,303.1 V310.3 M2013.3,303.1 V310.3 M2008.1,306.7 H2013.3" stroke="#70768a" stroke-width="1.3" fill="none"/><line x1="2495.2" y1="293.8" x2="2495.2" y2="319.3" stroke="#8e94a6" stroke-width="1"/><rect x="2492.2" y="308.5" width="6" height="7.2" rx="3" fill="#3b72e4"/><rect x="2513.2" y="304.6" width="4.6" height="1.4" fill="#7fa6f0"/><circle cx="1930.9" cy="342.70000000000005" r="12.8" fill="#fff" stroke="#cdd6f3" stroke-width="1.2"/><path d="M1925.3,336.6 L1938.1,342.6 L1925.9,349.4 L1927.6,342.9 Z" fill="url(#pg)" stroke="url(#pg)" stroke-width="0.8" stroke-linejoin="round"/><line x1="2495.2" y1="330.0" x2="2495.2" y2="355.5" stroke="#8e94a6" stroke-width="1"/><rect x="2492.2" y="343.2" width="6" height="8.5" rx="3" fill="#3b72e4"/><rect x="2513.2" y="340.8" width="4.6" height="1.4" fill="#7fa6f0"/><circle cx="1930.9" cy="378.9000000000001" r="12.8" fill="#fff" stroke="#cdd6f3" stroke-width="1.2"/><path d="M1925.3,372.8 L1938.1,378.8 L1925.9,385.6 L1927.6,379.1 Z" fill="url(#pg)" stroke="url(#pg)" stroke-width="0.8" stroke-linejoin="round"/><circle cx="2010.7" cy="379.1000000000001" r="7.3" fill="none" stroke="#70768a" stroke-width="1.3"/><path d="M2008.1,375.5 V382.7 M2013.3,375.5 V382.7 M2008.1,379.1 H2013.3" stroke="#70768a" stroke-width="1.3" fill="none"/><line x1="2495.2" y1="366.20000000000005" x2="2495.2" y2="391.70000000000005" stroke="#8e94a6" stroke-width="1"/><rect x="2492.2" y="384.9" width="6" height="3.4" rx="1.7" fill="#3b72e4"/><rect x="2513.2" y="377.0" width="4.6" height="1.4" fill="#7fa6f0"/><circle cx="1930.9" cy="415.1000000000001" r="12.8" fill="#fff" stroke="#cdd6f3" stroke-width="1.2"/><path d="M1925.3,409.0 L1938.1,415.0 L1925.9,421.8 L1927.6,415.3 Z" fill="url(#pg)" stroke="url(#pg)" stroke-width="0.8" stroke-linejoin="round"/><circle cx="2010.7" cy="415.30000000000007" r="7.3" fill="none" stroke="#70768a" stroke-width="1.3"/><path d="M2008.1,411.7 V418.9 M2013.3,411.7 V418.9 M2008.1,415.3 H2013.3" stroke="#70768a" stroke-width="1.3" fill="none"/><line x1="2495.2" y1="402.40000000000003" x2="2495.2" y2="427.90000000000003" stroke="#8e94a6" stroke-width="1"/><rect x="2492.2" y="419" width="6" height="5.2" rx="3" fill="#3b72e4"/><rect x="2513.2" y="413.2" width="4.6" height="1.4" fill="#7fa6f0"/><circle cx="1930.9" cy="451.30000000000007" r="12.8" fill="#fff" stroke="#cdd6f3" stroke-width="1.2"/><path d="M1925.3,445.2 L1938.1,451.2 L1925.9,458.0 L1927.6,451.5 Z" fill="url(#pg)" stroke="url(#pg)" stroke-width="0.8" stroke-linejoin="round"/><line x1="2495.2" y1="438.6" x2="2495.2" y2="464.1" stroke="#8e94a6" stroke-width="1"/><rect x="2492.2" y="456.2" width="6" height="4.6" rx="3" fill="#3b72e4"/><rect x="2513.2" y="449.4" width="4.6" height="1.4" fill="#7fa6f0"/><polygon points="1879.4,577.7 1881.3,582.2 1886.1,582.5 1882.4,585.7 1883.5,590.4 1879.4,587.9 1875.3,590.4 1876.4,585.7 1872.7,582.5 1877.5,582.2" fill="none" stroke="#6b7185" stroke-width="1.5" stroke-linejoin="round"/><rect x="2532" y="577" width="16" height="15.5" rx="2.5" fill="#3b72e4"/><path d="M1985,618.4 V632.0 M1978.2,625.2 H1991.8" stroke="#7b8196" stroke-width="1.6" fill="none"/><circle cx="2075" cy="625.2" r="8" fill="#3b72e4"/><text x="2075" y="629.2" text-anchor="middle" font-size="11" font-weight="700" fill="#fff" font-family="Liberation Sans, Arial, sans-serif">1</text><path d="M2173,623.2 L2176,619.2 L2179,623.2 Z" fill="#b8c4ee"/><path d="M2173,626.2 L2176,630.2 L2179,626.2 Z" fill="#3b72e4"/><polygon points="2533.0,617.0 2535.1,619.0 2538.1,619.1 2538.2,622.1 2540.2,624.2 2538.2,626.3 2538.1,629.3 2535.1,629.4 2533.0,631.4 2530.9,629.4 2527.9,629.3 2527.8,626.3 2525.8,624.2 2527.8,622.1 2527.9,619.1 2530.9,619.0" fill="none" stroke="#6b7185" stroke-width="1.4" stroke-linejoin="round"/><circle cx="2533" cy="624.2" r="2.4" fill="none" stroke="#6b7185" stroke-width="1.4"/><line x1="2495.2" y1="650.4" x2="2495.2" y2="675.4" stroke="#8e94a6" stroke-width="1"/><rect x="2492.2" y="658.8" width="6" height="13.4" rx="3" fill="#3b72e4"/><circle cx="1931" cy="662.1999999999999" r="12.4" fill="#0b0b0b"/><rect x="1924.4" y="655.6" width="6.1" height="6.1" fill="#f25022"/><rect x="1931.5" y="655.6" width="6.1" height="6.1" fill="#7fba00"/><rect x="1924.4" y="662.7" width="6.1" height="6.1" fill="#00a4ef"/><rect x="1931.5" y="662.7" width="6.1" height="6.1" fill="#ffb900"/><line x1="2495.2" y1="686.35" x2="2495.2" y2="711.35" stroke="#8e94a6" stroke-width="1"/><rect x="2492.2" y="701.2" width="6" height="6.4" rx="3" fill="#3b72e4"/><circle cx="1931" cy="698.15" r="12.4" fill="#e31937"/><path d="M1925.5,693.65 Q1931,691.15 1936.5,693.65 M1931,694.15 V704.15" stroke="#fff" stroke-width="2" fill="none"/><line x1="2495.2" y1="722.3" x2="2495.2" y2="747.3" stroke="#8e94a6" stroke-width="1"/><rect x="2492.2" y="740.3" width="6" height="3.4" rx="1.7" fill="#3b72e4"/><circle cx="1931" cy="734.0999999999999" r="12.2" fill="#fff" stroke="#d3daf3" stroke-width="1"/><text x="1931" y="735.8999999999999" text-anchor="middle" font-size="5" fill="#e0506a" font-family="Liberation Sans, Arial, sans-serif">Alphabet</text><line x1="2495.2" y1="758.25" x2="2495.2" y2="783.25" stroke="#8e94a6" stroke-width="1"/><rect x="2492.2" y="773.7" width="6" height="6.4" rx="3" fill="#3b72e4"/><ellipse cx="2007.8" cy="765.05" rx="5" ry="2.2" fill="#fff" stroke="#8d93a5" stroke-width="1.2"/><ellipse cx="2007.8" cy="768.55" rx="5" ry="2.2" fill="#fff" stroke="#8d93a5" stroke-width="1.2"/><ellipse cx="2007.8" cy="772.05" rx="5" ry="2.2" fill="#fff" stroke="#8d93a5" stroke-width="1.2"/><circle cx="1931" cy="770.05" r="12.4" fill="#76b900"/><path d="M1925,769.05 Q1931,763.05 1937,769.05 Q1931,774.05 1925,769.05 Z" fill="#dfeec0" opacity="0.8"/><rect x="1924" y="775.05" width="14" height="3" fill="#223300" opacity="0.7"/><line x1="2495.2" y1="794.2" x2="2495.2" y2="819.2" stroke="#8e94a6" stroke-width="1"/><rect x="2492.2" y="812.8" width="6" height="3.4" rx="1.7" fill="#3b72e4"/><ellipse cx="2007.8" cy="801.0" rx="5" ry="2.2" fill="#fff" stroke="#8d93a5" stroke-width="1.2"/><ellipse cx="2007.8" cy="804.5" rx="5" ry="2.2" fill="#fff" stroke="#8d93a5" stroke-width="1.2"/><ellipse cx="2007.8" cy="808.0" rx="5" ry="2.2" fill="#fff" stroke="#8d93a5" stroke-width="1.2"/><circle cx="1931" cy="806.0" r="12.2" fill="#fff" stroke="#d3daf3" stroke-width="1"/><path d="M1931,806.0 C1928,800.0 1923.5,801.0 1923.5,806.5 C1923.5,811.0 1928,810.0 1931,806.0 C1934,801.5 1938.5,801.0 1938.5,806.5 C1938.5,811.0 1934,811.0 1931,806.0" stroke="#1877f2" stroke-width="2.2" fill="none"/><line x1="2495.2" y1="830.15" x2="2495.2" y2="855.15" stroke="#8e94a6" stroke-width="1"/><rect x="2492.2" y="850.0" width="6" height="3.4" rx="1.7" fill="#3b72e4"/><circle cx="1931" cy="841.9499999999999" r="12.4" fill="#000"/><path d="M1931,839.4499999999999 C1926,836.9499999999999 1924.5,841.9499999999999 1927,846.4499999999999 C1928.5,848.4499999999999 1930,847.4499999999999 1931,846.9499999999999 C1932,847.4499999999999 1933.5,848.4499999999999 1935,846.4499999999999 C1936,844.9499999999999 1935.5,843.9499999999999 1934.5,842.9499999999999 C1936.5,840.9499999999999 1936,837.9499999999999 1931,839.4499999999999 Z M1931.2,838.4499999999999 Q1931.5,835.4499999999999 1934,834.9499999999999" fill="#fff" stroke="#fff" stroke-width="0.8"/><line x1="2495.2" y1="866.1" x2="2495.2" y2="891.1" stroke="#8e94a6" stroke-width="1"/><rect x="2492.2" y="886.2" width="6" height="3.4" rx="1.7" fill="#3b72e4"/><circle cx="1931" cy="877.9" r="12.4" fill="#ff6a00"/><path d="M1924.5,877.9 Q1931,881.9 1937.5,877.9" stroke="#fff" stroke-width="1.6" fill="none"/><g stroke="#6b7185" stroke-width="1.5" stroke-linecap="round"><path d="M1874,1039 H1883 M1874,1043 H1880.5 M1874,1047 H1879 M1874,1051 H1883"/></g><g stroke="#6b7185" stroke-width="1.5" stroke-linecap="round" fill="none"><path d="M2005,1041 V1049 M2018.5,1041 V1049 M2006.5,1045 H2017 M2008.5,1043 L2006.5,1045 L2008.5,1047 M2015,1043 L2017,1045 L2015,1047"/></g><path d="M2239,1043 L2242,1039 L2245,1043 Z" fill="#b8c4ee"/><path d="M2239,1046 L2242,1050 L2245,1046 Z" fill="#3b72e4"/><circle cx="2509.4" cy="1042.7" r="0.9" fill="#7b8196"/><circle cx="2509.4" cy="1046.7" r="0.9" fill="#7b8196"/><circle cx="2509.4" cy="1050.7" r="0.9" fill="#7b8196"/><rect x="2532.2" y="1039.3" width="15.8" height="15.2" rx="2.5" fill="#3b72e4"/></svg></body></html>
